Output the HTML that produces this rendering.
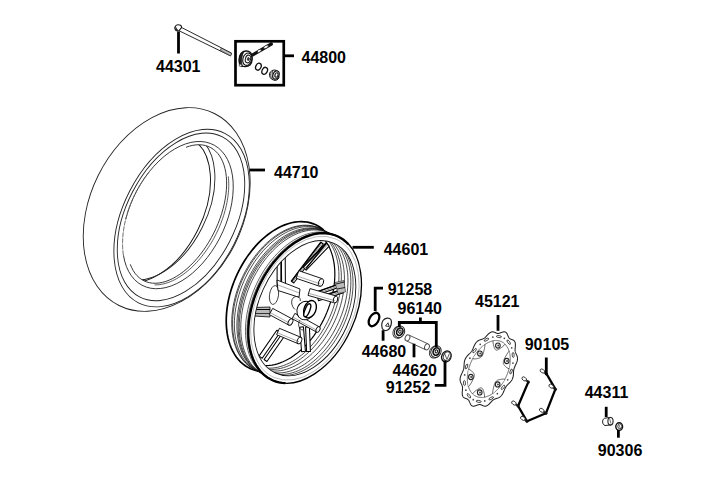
<!DOCTYPE html>
<html><head><meta charset="utf-8"><style>
html,body{margin:0;padding:0;background:#fff;width:720px;height:480px;overflow:hidden}
svg{display:block}
text{font-family:"Liberation Sans",sans-serif;font-weight:bold;font-size:16px;fill:#000}
</style></head><body>
<svg width="720" height="480" viewBox="0 0 720 480">
<rect width="720" height="480" fill="#fff"/>
<g id="tire">
<ellipse cx="166.70" cy="209.50" rx="76.50" ry="107.20" transform="rotate(26.40 166.70 209.50)" fill="none" stroke="#222" stroke-width="0.9" />
<ellipse cx="181.60" cy="218.10" rx="58.50" ry="95.10" transform="rotate(27.00 181.60 218.10)" fill="none" stroke="#222" stroke-width="0.9" />
<ellipse cx="181.00" cy="216.90" rx="54.50" ry="90.10" transform="rotate(27.40 181.00 216.90)" fill="none" stroke="#222" stroke-width="0.9" />
<path d="M125.75 219.13 L127.81 211.94 L130.35 204.79 L133.33 197.73 L136.75 190.84 L140.55 184.18 L144.71 177.82 L149.19 171.81 L153.93 166.21 L158.91 161.08 L164.07 156.46 L169.36 152.40 L174.73 148.94 L180.13 146.10 L185.51 143.93 L190.82 142.43 L196.00 141.62 L201.02 141.52 L205.81 142.11 L210.33 143.40 L214.55 145.37 L218.42 148.01 L221.90 151.28 L224.97 155.17 L227.58 159.62 L229.72 164.60 L231.37 170.06 L232.51 175.95 L233.13 182.22 L233.23 188.80 L232.79 195.62 L231.84 202.64 L230.37 209.77 L228.40 216.95 L225.95 224.11 L223.04 231.19 L219.70 238.12 L215.97 244.83 L211.87 251.25 L207.45 257.33 L202.75 263.01 L197.81 268.23 L192.68 272.94 L187.41 277.11 L182.05 280.68 L176.65 283.63 L171.26 285.93 L165.94 287.55 L160.73 288.48 L155.68 288.72 L150.84 288.25 L146.27 287.08 L141.99 285.24 L138.05 282.72 L134.50 279.56 L131.36 275.78 L128.66 271.43 L126.43 266.54 L124.69 261.16 L123.46 255.35" fill="none" stroke="#222" stroke-width="0.9" />
<path d="M123.46 255.35 L123.37 254.80 L123.29 254.25 L123.21 253.69 L123.14 253.13 L123.07 252.57 L123.00 252.01 L122.94 251.44 L122.88 250.87 L122.83 250.30 L122.78 249.72 L122.74 249.15 L122.70 248.57 L122.67 247.98 L122.64 247.40 L122.61 246.81 L122.59 246.22 L122.57 245.62 L122.56 245.03 L122.55 244.43 L122.55 243.83 L122.55 243.23 L122.55 242.62 L122.56 242.01 L122.57 241.40 L122.59 240.79 L122.61 240.18 L122.64 239.56 L122.67 238.95 L122.71 238.33 L122.74 237.71 L122.79 237.08 L122.84 236.46 L122.89 235.83 L122.95 235.21 L123.01 234.58 L123.07 233.95 L123.14 233.31 L123.22 232.68 L123.29 232.05 L123.38 231.41 L123.46 230.77 L123.56 230.13 L123.65 229.49 L123.75 228.85 L123.85 228.21 L123.96 227.56 L124.08 226.92 L124.19 226.27 L124.31 225.63 L124.44 224.98 L124.57 224.33 L124.70 223.68 L124.84 223.04 L124.98 222.39 L125.13 221.74 L125.28 221.08 L125.43 220.43 L125.59 219.78 L125.75 219.13" fill="none" stroke="#555" stroke-width="1.0" stroke-dasharray="5 1"/>
<path d="M125.75 219.13 L125.98 218.26 L126.21 217.39 L126.45 216.52 L126.69 215.65 L126.94 214.77 L127.20 213.90 L127.47 213.03 L127.74 212.16 L128.02 211.29 L128.31 210.42 L128.60 209.55 L128.91 208.68 L129.21 207.82 L129.53 206.95 L129.85 206.09 L130.18 205.22 L130.51 204.36 L130.86 203.50 L131.21 202.64 L131.56 201.78 L131.92 200.92 L132.29 200.07 L132.66 199.22 L133.04 198.37 L133.43 197.52 L133.82 196.68 L134.22 195.84 L134.63 195.00 L135.04 194.16 L135.46 193.33 L135.88 192.49 L136.31 191.67 L136.75 190.84 L137.19 190.02 L137.63 189.20 L138.09 188.39 L138.54 187.58 L139.01 186.78 L139.48 185.97 L139.95 185.17 L140.43 184.38 L140.91 183.59 L141.40 182.81 L141.90 182.03 L142.40 181.25 L142.90 180.48 L143.41 179.71 L143.93 178.95 L144.45 178.19 L144.97 177.44 L145.50 176.70 L146.03 175.96 L146.57 175.22 L147.11 174.49 L147.66 173.77 L148.21 173.05 L148.77 172.34 L149.33 171.63 L149.89 170.93" fill="none" stroke="#666" stroke-width="1.0" stroke-dasharray="4 1.5"/>
<path d="M186.03 147.28 L189.46 146.13 L192.83 145.32 L196.12 144.85 L199.31 144.73 L202.39 144.95 L205.35 145.52 L208.16 146.43 L210.81 147.68 L213.30 149.26 L215.60 151.17 L217.71 153.38 L219.62 155.90 L221.31 158.72 L222.78 161.80 L224.02 165.15 L225.03 168.74 L225.80 172.56 L226.32 176.58 L226.59 180.80 L226.62 185.17 L226.40 189.70 L225.93 194.34 L225.21 199.08 L224.26 203.90 L223.06 208.76 L221.64 213.66 L219.99 218.55 L218.13 223.42 L216.06 228.25 L213.80 233.00 L211.35 237.66 L208.73 242.20 L205.95 246.60 L203.03 250.83 L199.97 254.89 L196.80 258.73 L193.53 262.36 L190.18 265.74 L186.76 268.87 L183.29 271.72 L179.79 274.28 L176.28 276.54 L172.77 278.49 L169.28 280.11 L165.82 281.41 L162.43 282.37 L159.10 282.99 L155.86 283.26 L152.73 283.19 L149.72 282.77 L146.85 282.00 L144.12 280.90 L141.56 279.46 L139.18 277.70 L136.98 275.62 L134.99 273.23 L133.20 270.54 L131.63 267.57 L130.29 264.34" fill="none" stroke="#222" stroke-width="0.9" />
<path d="M228.32 176.41 L228.53 178.62 L228.68 180.88 L228.75 183.18 L228.76 185.52 L228.70 187.90 L228.57 190.32 L228.37 192.76 L228.10 195.24 L227.77 197.73 L227.37 200.25 L226.90 202.79 L226.36 205.34 L225.76 207.91 L225.10 210.48 L224.37 213.06 L223.58 215.64 L222.72 218.21 L221.81 220.78 L220.84 223.35 L219.80 225.89 L218.72 228.43 L217.57 230.94 L216.38 233.43 L215.13 235.90 L213.83 238.34 L212.48 240.74 L211.08 243.11 L209.64 245.44 L208.15 247.73 L206.63 249.98 L205.06 252.18 L203.46 254.32 L201.82 256.42 L200.15 258.45 L198.45 260.43 L196.72 262.35 L194.96 264.20 L193.18 265.99 L191.38 267.70 L189.56 269.35 L187.72 270.92 L185.87 272.42 L184.00 273.84 L182.13 275.18 L180.25 276.44 L178.36 277.62 L176.48 278.72 L174.59 279.72 L172.71 280.64 L170.83 281.48 L168.96 282.22 L167.10 282.87 L165.25 283.43 L163.42 283.90 L161.61 284.28 L159.82 284.57 L158.05 284.76 L156.30 284.85 L154.58 284.86" fill="none" stroke="#333" stroke-width="0.8" />
<clipPath id="tclip"><ellipse cx="176.9" cy="214.0" rx="41.5" ry="74.5" transform="rotate(26.3 176.9 214.0)"/></clipPath>
<g clip-path="url(#tclip)">
<ellipse cx="155.13" cy="208.71" rx="47.70" ry="78.80" transform="rotate(26.60 155.13 208.71)" fill="none" stroke="#111" stroke-width="0.95" />
<ellipse cx="159.55" cy="206.14" rx="47.70" ry="78.80" transform="rotate(26.60 159.55 206.14)" fill="none" stroke="#222" stroke-width="0.9" />
</g>
</g>
<g id="wheel">
<path d="M259.36 371.22 L256.33 370.65 L253.39 369.81 L250.56 368.72 L247.84 367.37 L245.24 365.76 L242.78 363.91 L240.47 361.82 L238.30 359.49 L236.30 356.94 L234.45 354.18 L232.79 351.21 L231.30 348.04 L229.99 344.69 L228.87 341.17 L227.95 337.49 L227.22 333.67 L226.69 329.71 L226.36 325.63 L226.23 321.45 L226.30 317.18 L226.58 312.84 L227.05 308.44 L227.73 304.00 L228.60 299.53 L229.66 295.05 L230.92 290.58 L232.36 286.13 L233.97 281.71 L235.77 277.35 L237.73 273.06 L239.85 268.85 L242.13 264.74 L244.55 260.74 L247.11 256.87 L249.79 253.15 L252.59 249.58 L255.51 246.17 L258.51 242.95 L261.61 239.92 L264.78 237.09 L268.01 234.47 L271.30 232.08 L274.63 229.91 L277.99 227.98 L281.36 226.30 L284.74 224.87 L288.11 223.70 L291.47 222.78 L294.79 222.13 L298.07 221.74 L301.30 221.63 L304.46 221.78 L307.54 222.19 L310.53 222.87 L313.43 223.82 L316.22 225.02 L318.88 226.49 L321.42 228.20 L323.82 230.15" fill="none" stroke="#000" stroke-width="1.7" />
<path d="M264.34 372.53 L261.36 371.97 L258.46 371.15 L255.67 370.07 L252.99 368.74 L250.44 367.16 L248.02 365.34 L245.73 363.28 L243.60 360.99 L241.62 358.47 L239.81 355.75 L238.17 352.82 L236.70 349.71 L235.41 346.41 L234.31 342.94 L233.40 339.32 L232.68 335.55 L232.16 331.65 L231.84 327.63 L231.71 323.52 L231.78 319.31 L232.05 315.03 L232.52 310.70 L233.18 306.32 L234.04 301.92 L235.09 297.51 L236.32 293.10 L237.74 288.72 L239.34 284.37 L241.10 280.07 L243.04 275.85 L245.13 271.70 L247.37 267.65 L249.75 263.71 L252.27 259.90 L254.92 256.23 L257.68 252.72 L260.55 249.36 L263.51 246.19 L266.56 243.20 L269.68 240.42 L272.87 237.84 L276.10 235.48 L279.38 233.35 L282.69 231.45 L286.01 229.79 L289.34 228.38 L292.67 227.23 L295.97 226.32 L299.24 225.68 L302.47 225.30 L305.65 225.19 L308.76 225.33 L311.80 225.74 L314.75 226.42 L317.60 227.35 L320.34 228.53 L322.97 229.97 L325.47 231.66 L327.83 233.58" fill="none" stroke="#111" stroke-width="0.75" />
<path d="M265.23 373.00 L262.24 372.44 L259.34 371.62 L256.55 370.54 L253.88 369.21 L251.32 367.62 L248.90 365.80 L246.62 363.74 L244.48 361.45 L242.51 358.94 L240.69 356.21 L239.05 353.29 L237.58 350.17 L236.30 346.87 L235.19 343.40 L234.28 339.78 L233.57 336.01 L233.04 332.11 L232.72 328.10 L232.59 323.98 L232.66 319.78 L232.93 315.50 L233.40 311.16 L234.07 306.79 L234.92 302.39 L235.97 297.97 L237.21 293.57 L238.62 289.18 L240.22 284.83 L241.99 280.54 L243.92 276.31 L246.01 272.16 L248.25 268.12 L250.64 264.18 L253.15 260.37 L255.80 256.70 L258.56 253.18 L261.43 249.83 L264.39 246.65 L267.44 243.67 L270.56 240.88 L273.75 238.30 L276.99 235.94 L280.26 233.81 L283.57 231.91 L286.90 230.26 L290.22 228.85 L293.55 227.69 L296.85 226.79 L300.12 226.15 L303.36 225.77 L306.53 225.65 L309.65 225.80 L312.68 226.21 L315.63 226.88 L318.48 227.81 L321.23 229.00 L323.85 230.44 L326.35 232.12 L328.72 234.05" fill="none" stroke="#111" stroke-width="0.75" />
<path d="M266.99 373.93 L264.00 373.37 L261.11 372.54 L258.32 371.47 L255.64 370.13 L253.08 368.55 L250.66 366.73 L248.38 364.67 L246.25 362.38 L244.27 359.87 L242.46 357.14 L240.81 354.22 L239.35 351.10 L238.06 347.80 L236.96 344.33 L236.05 340.71 L235.33 336.94 L234.81 333.04 L234.48 329.03 L234.35 324.91 L234.43 320.70 L234.70 316.43 L235.16 312.09 L235.83 307.72 L236.69 303.31 L237.74 298.90 L238.97 294.50 L240.39 290.11 L241.98 285.76 L243.75 281.47 L245.68 277.24 L247.77 273.09 L250.02 269.04 L252.40 265.11 L254.92 261.30 L257.56 257.63 L260.32 254.11 L263.19 250.76 L266.15 247.58 L269.20 244.60 L272.33 241.81 L275.51 239.23 L278.75 236.87 L282.03 234.74 L285.34 232.84 L288.66 231.18 L291.99 229.77 L295.31 228.62 L298.62 227.72 L301.89 227.07 L305.12 226.70 L308.30 226.58 L311.41 226.73 L314.45 227.14 L317.39 227.81 L320.25 228.74 L322.99 229.93 L325.62 231.37 L328.12 233.05 L330.48 234.98" fill="none" stroke="#111" stroke-width="0.75" />
<path d="M269.53 375.26 L266.54 374.70 L263.64 373.88 L260.85 372.80 L258.17 371.47 L255.62 369.89 L253.20 368.06 L250.92 366.00 L248.78 363.71 L246.81 361.20 L244.99 358.48 L243.35 355.55 L241.88 352.43 L240.59 349.13 L239.49 345.67 L238.58 342.04 L237.86 338.27 L237.34 334.37 L237.02 330.36 L236.89 326.24 L236.96 322.04 L237.23 317.76 L237.70 313.43 L238.36 309.05 L239.22 304.65 L240.27 300.24 L241.51 295.83 L242.92 291.44 L244.52 287.10 L246.29 282.80 L248.22 278.57 L250.31 274.43 L252.55 270.38 L254.94 266.44 L257.45 262.63 L260.10 258.96 L262.86 255.44 L265.73 252.09 L268.69 248.92 L271.74 245.93 L274.86 243.14 L278.05 240.56 L281.29 238.21 L284.56 236.07 L287.87 234.17 L291.20 232.52 L294.52 231.11 L297.85 229.95 L301.15 229.05 L304.42 228.41 L307.66 228.03 L310.83 227.91 L313.95 228.06 L316.98 228.47 L319.93 229.14 L322.78 230.07 L325.53 231.26 L328.15 232.70 L330.65 234.38 L333.02 236.31" fill="none" stroke="#111" stroke-width="0.75" />
<path d="M270.74 375.90 L267.75 375.34 L264.86 374.52 L262.07 373.44 L259.39 372.11 L256.83 370.52 L254.41 368.70 L252.13 366.64 L249.99 364.35 L248.02 361.84 L246.20 359.11 L244.56 356.19 L243.09 353.07 L241.81 349.77 L240.71 346.30 L239.80 342.68 L239.08 338.91 L238.55 335.01 L238.23 331.00 L238.10 326.88 L238.17 322.68 L238.45 318.40 L238.91 314.06 L239.58 309.69 L240.44 305.29 L241.48 300.87 L242.72 296.47 L244.14 292.08 L245.73 287.73 L247.50 283.44 L249.43 279.21 L251.52 275.06 L253.76 271.02 L256.15 267.08 L258.67 263.27 L261.31 259.60 L264.07 256.08 L266.94 252.73 L269.90 249.55 L272.95 246.57 L276.07 243.78 L279.26 241.20 L282.50 238.84 L285.78 236.71 L289.08 234.81 L292.41 233.16 L295.74 231.75 L299.06 230.59 L302.36 229.69 L305.64 229.05 L308.87 228.67 L312.05 228.55 L315.16 228.70 L318.19 229.11 L321.14 229.78 L324.00 230.71 L326.74 231.90 L329.37 233.34 L331.87 235.02 L334.23 236.95" fill="none" stroke="#111" stroke-width="0.75" />
<path d="M271.84 376.48 L268.85 375.92 L265.96 375.10 L263.17 374.02 L260.49 372.69 L257.94 371.10 L255.51 369.28 L253.23 367.22 L251.10 364.93 L249.12 362.42 L247.31 359.69 L245.66 356.77 L244.20 353.65 L242.91 350.35 L241.81 346.88 L240.90 343.26 L240.18 339.49 L239.66 335.59 L239.33 331.58 L239.21 327.46 L239.28 323.26 L239.55 318.98 L240.02 314.64 L240.68 310.27 L241.54 305.87 L242.59 301.45 L243.82 297.05 L245.24 292.66 L246.83 288.31 L248.60 284.02 L250.53 279.79 L252.62 275.64 L254.87 271.60 L257.25 267.66 L259.77 263.85 L262.41 260.18 L265.18 256.66 L268.04 253.31 L271.00 250.13 L274.05 247.15 L277.18 244.36 L280.36 241.78 L283.60 239.42 L286.88 237.29 L290.19 235.39 L293.51 233.74 L296.84 232.33 L300.16 231.17 L303.47 230.27 L306.74 229.63 L309.97 229.25 L313.15 229.13 L316.26 229.28 L319.30 229.69 L322.25 230.36 L325.10 231.29 L327.84 232.48 L330.47 233.92 L332.97 235.60 L335.33 237.53" fill="none" stroke="#111" stroke-width="0.75" />
<path d="M273.38 377.29 L270.40 376.73 L267.50 375.91 L264.71 374.83 L262.03 373.50 L259.48 371.92 L257.06 370.09 L254.77 368.03 L252.64 365.74 L250.66 363.23 L248.85 360.51 L247.21 357.58 L245.74 354.46 L244.45 351.16 L243.35 347.70 L242.44 344.07 L241.72 340.30 L241.20 336.40 L240.88 332.39 L240.75 328.27 L240.82 324.07 L241.09 319.79 L241.56 315.46 L242.22 311.08 L243.08 306.68 L244.13 302.27 L245.37 297.86 L246.78 293.47 L248.38 289.13 L250.15 284.83 L252.08 280.60 L254.17 276.46 L256.41 272.41 L258.79 268.47 L261.31 264.66 L263.96 260.99 L266.72 257.47 L269.59 254.12 L272.55 250.95 L275.60 247.96 L278.72 245.17 L281.91 242.59 L285.14 240.24 L288.42 238.10 L291.73 236.20 L295.05 234.55 L298.38 233.14 L301.71 231.98 L305.01 231.08 L308.28 230.44 L311.51 230.06 L314.69 229.94 L317.80 230.09 L320.84 230.50 L323.79 231.17 L326.64 232.10 L329.39 233.29 L332.01 234.73 L334.51 236.41 L336.88 238.34" fill="none" stroke="#111" stroke-width="0.75" />
<path d="M278.44 380.82 L275.42 380.25 L272.50 379.42 L269.68 378.34 L266.98 376.99 L264.40 375.39 L261.95 373.55 L259.64 371.47 L257.49 369.15 L255.49 366.62 L253.66 363.87 L252.00 360.91 L250.52 357.76 L249.22 354.43 L248.11 350.93 L247.19 347.26 L246.46 343.46 L245.93 339.52 L245.60 335.46 L245.47 331.30 L245.55 327.06 L245.82 322.74 L246.29 318.36 L246.96 313.94 L247.83 309.49 L248.89 305.04 L250.14 300.58 L251.57 296.15 L253.18 291.76 L254.97 287.42 L256.92 283.15 L259.03 278.96 L261.29 274.87 L263.70 270.90 L266.25 267.05 L268.92 263.34 L271.71 259.79 L274.60 256.40 L277.60 253.19 L280.68 250.18 L283.83 247.36 L287.05 244.76 L290.32 242.37 L293.63 240.22 L296.97 238.30 L300.33 236.63 L303.69 235.21 L307.05 234.04 L310.39 233.13 L313.69 232.48 L316.96 232.09 L320.17 231.98 L323.31 232.13 L326.38 232.54 L329.36 233.22 L332.24 234.16 L335.01 235.36 L337.66 236.81 L340.19 238.51 L342.58 240.46" fill="none" stroke="#222" stroke-width="0.7" />
<path d="M279.99 381.63 L276.97 381.07 L274.04 380.24 L271.22 379.15 L268.52 377.80 L265.94 376.20 L263.49 374.36 L261.19 372.28 L259.03 369.97 L257.03 367.43 L255.20 364.68 L253.54 361.72 L252.06 358.57 L250.76 355.24 L249.65 351.74 L248.73 348.08 L248.00 344.27 L247.48 340.33 L247.15 336.28 L247.02 332.12 L247.09 327.87 L247.36 323.55 L247.84 319.17 L248.51 314.75 L249.37 310.30 L250.43 305.85 L251.68 301.40 L253.11 296.97 L254.73 292.57 L256.51 288.23 L258.46 283.96 L260.57 279.77 L262.84 275.68 L265.25 271.71 L267.79 267.86 L270.46 264.15 L273.25 260.60 L276.15 257.21 L279.14 254.01 L282.22 250.99 L285.37 248.17 L288.59 245.57 L291.86 243.19 L295.18 241.03 L298.52 239.11 L301.88 237.44 L305.24 236.02 L308.59 234.85 L311.93 233.94 L315.24 233.29 L318.50 232.91 L321.71 232.79 L324.86 232.94 L327.92 233.35 L330.90 234.03 L333.78 234.97 L336.55 236.17 L339.21 237.62 L341.73 239.33 L344.12 241.27" fill="none" stroke="#222" stroke-width="0.7" />
<path d="M351.15 329.10 L349.38 332.84 L347.50 336.52 L345.49 340.11 L343.38 343.62 L341.16 347.03 L338.84 350.33 L336.42 353.52 L333.92 356.58 L331.34 359.51 L328.69 362.30 L325.97 364.95 L323.20 367.43 L320.37 369.76 L317.50 371.91 L314.60 373.89 L311.67 375.70 L308.72 377.31 L305.76 378.74 L302.80 379.97 L299.85 381.01 L296.90 381.84 L293.98 382.48 L291.09 382.91 L288.24 383.14 L285.43 383.16 L282.68 382.97 L279.98 382.58 L277.36 381.99 L274.81 381.20 L272.34 380.20 L269.96 379.01 L267.68 377.62 L265.50 376.04 L263.42 374.28 L261.46 372.34 L259.62 370.22 L257.91 367.93 L256.32 365.47 L254.86 362.86 L253.55 360.10 L252.37 357.20 L251.34 354.16 L250.45 351.00 L249.71 347.72 L249.12 344.33 L248.69 340.84 L248.41 337.27 L248.28 333.61 L248.31 329.88 L248.50 326.10 L248.84 322.26 L249.33 318.39 L249.98 314.49 L250.77 310.57 L251.71 306.64 L252.80 302.72 L254.04 298.82 L255.41 294.94 L256.91 291.09 L258.55 287.30 L260.32 283.56 L262.20 279.88 L264.21 276.29 L266.32 272.78 L268.54 269.37 L270.86 266.07 L273.28 262.88 L275.78 259.82 L278.36 256.89 L281.01 254.10 L283.73 251.45 L286.50 248.97 L289.33 246.64 L292.20 244.49 L295.10 242.51 L298.03 240.70 L300.98 239.09 L303.94 237.66 L306.90 236.43 L309.85 235.39 L312.80 234.56 L315.72 233.92 L318.61 233.49 L321.46 233.26 L324.27 233.24 L327.02 233.43 L329.72 233.82 L332.34 234.41 L334.89 235.20 L337.36 236.20 L339.74 237.39 L342.02 238.78 L344.20 240.36 L346.28 242.12 L348.24 244.06 L350.08 246.18 L351.79 248.47 L353.38 250.93 L354.84 253.54 L356.15 256.30 L357.33 259.20 L358.36 262.24 L359.25 265.40 L359.99 268.68 L360.58 272.07 L361.01 275.56 L361.29 279.13 L361.42 282.79 L361.39 286.52 L361.20 290.30 L360.86 294.14 L360.37 298.01 L359.72 301.91 L358.93 305.83 L357.99 309.76 L356.90 313.68 L355.66 317.58 L354.29 321.46 L352.79 325.31 L351.15 329.10Z" fill="#fff" stroke="none"/>
<clipPath id="wclip"><path d="M346.52 327.01 L344.93 330.38 L343.23 333.68 L341.43 336.92 L339.53 340.08 L337.53 343.15 L335.44 346.12 L333.27 348.99 L331.02 351.74 L328.69 354.38 L326.31 356.89 L323.86 359.27 L321.36 361.51 L318.82 363.60 L316.24 365.54 L313.63 367.32 L310.99 368.95 L308.34 370.40 L305.67 371.68 L303.01 372.79 L300.35 373.73 L297.70 374.48 L295.07 375.05 L292.47 375.44 L289.90 375.64 L287.37 375.66 L284.89 375.50 L282.47 375.15 L280.11 374.61 L277.81 373.90 L275.59 373.00 L273.45 371.93 L271.40 370.68 L269.43 369.26 L267.57 367.67 L265.80 365.92 L264.15 364.02 L262.60 361.95 L261.17 359.75 L259.86 357.40 L258.68 354.91 L257.62 352.30 L256.69 349.57 L255.89 346.72 L255.22 343.77 L254.70 340.72 L254.31 337.58 L254.05 334.36 L253.94 331.07 L253.97 327.71 L254.13 324.31 L254.44 320.86 L254.88 317.37 L255.46 313.86 L256.18 310.33 L257.03 306.80 L258.01 303.27 L259.12 299.75 L260.35 296.26 L261.71 292.80 L263.18 289.39 L264.77 286.02 L266.47 282.72 L268.27 279.48 L270.17 276.32 L272.17 273.25 L274.26 270.28 L276.43 267.41 L278.68 264.66 L281.01 262.02 L283.39 259.51 L285.84 257.13 L288.34 254.89 L290.88 252.80 L293.46 250.86 L296.07 249.08 L298.71 247.45 L301.36 246.00 L304.03 244.72 L306.69 243.61 L309.35 242.67 L312.00 241.92 L314.63 241.35 L317.23 240.96 L319.80 240.76 L322.33 240.74 L324.81 240.90 L327.23 241.25 L329.59 241.79 L331.89 242.50 L334.11 243.40 L336.25 244.47 L338.30 245.72 L340.27 247.14 L342.13 248.73 L343.90 250.48 L345.55 252.38 L347.10 254.45 L348.53 256.65 L349.84 259.00 L351.02 261.49 L352.08 264.10 L353.01 266.83 L353.81 269.68 L354.48 272.63 L355.00 275.68 L355.39 278.82 L355.65 282.04 L355.76 285.33 L355.73 288.69 L355.57 292.09 L355.26 295.54 L354.82 299.03 L354.24 302.54 L353.52 306.07 L352.67 309.60 L351.69 313.13 L350.58 316.65 L349.35 320.14 L347.99 323.60 L346.52 327.01Z"/></clipPath>
<g clip-path="url(#wclip)">
<path d="M313.74 230.85 L315.92 232.05 L318.01 233.44 L320.00 235.00 L321.89 236.74 L323.66 238.65 L325.32 240.72 L326.86 242.95 L328.27 245.34 L329.55 247.87 L330.70 250.53 L331.72 253.33 L332.60 256.25 L333.33 259.29 L333.92 262.43 L334.37 265.66 L334.67 268.99 L334.83 272.39 L334.83 275.86 L334.69 279.40 L334.40 282.97 L333.97 286.59 L333.39 290.24 L332.67 293.90 L331.80 297.58 L330.80 301.25 L329.66 304.90 L328.39 308.53 L326.99 312.13 L325.46 315.69 L323.81 319.19 L322.05 322.62 L320.18 325.99 L318.19 329.27 L316.11 332.45 L313.94 335.54 L311.67 338.51 L309.33 341.37 L306.91 344.10 L304.42 346.69 L301.87 349.15 L299.26 351.45 L296.61 353.60 L293.92 355.59 L291.20 357.40 L288.45 359.05 L285.69 360.52 L282.92 361.81 L280.15 362.91 L277.39 363.83 L274.64 364.56 L271.92 365.09 L269.22 365.43 L266.57 365.57 L263.96 365.52 L261.41 365.27 L258.91 364.83 L256.48 364.19 L254.13 363.37 L251.86 362.35" fill="none" stroke="#000" stroke-width="1.2" />
<path d="M313.80 230.41 L316.28 231.37 L318.66 232.54 L320.94 233.92 L323.11 235.51 L325.17 237.29 L327.10 239.27 L328.90 241.43 L330.57 243.78 L332.10 246.29 L333.49 248.97 L334.72 251.81 L335.81 254.80 L336.73 257.92 L337.50 261.17 L338.11 264.54 L338.55 268.02 L338.83 271.59 L338.94 275.25 L338.88 278.98 L338.66 282.77 L338.28 286.61 L337.73 290.49 L337.02 294.39 L336.14 298.31 L335.12 302.23 L333.93 306.13 L332.60 310.01 L331.12 313.86 L329.50 317.65 L327.74 321.39 L325.85 325.05 L323.84 328.63 L321.71 332.11 L319.46 335.49 L317.11 338.75 L314.67 341.88 L312.13 344.88 L309.52 347.73 L306.83 350.42 L304.07 352.95 L301.26 355.31 L298.41 357.49 L295.51 359.48 L292.58 361.28 L289.64 362.88 L286.69 364.27 L283.73 365.46 L280.78 366.44 L277.85 367.20 L274.95 367.75 L272.08 368.08 L269.26 368.18 L266.49 368.07 L263.78 367.74 L261.15 367.18 L258.59 366.41 L256.12 365.43 L253.75 364.24 L251.48 362.83" fill="none" stroke="#111" stroke-width="0.75" />
<path d="M316.22 231.68 L318.70 232.64 L321.08 233.82 L323.36 235.20 L325.54 236.78 L327.59 238.57 L329.52 240.54 L331.33 242.71 L333.00 245.05 L334.53 247.57 L335.91 250.25 L337.15 253.09 L338.23 256.07 L339.16 259.20 L339.93 262.45 L340.53 265.82 L340.97 269.29 L341.25 272.86 L341.36 276.52 L341.31 280.25 L341.09 284.04 L340.70 287.88 L340.15 291.76 L339.44 295.67 L338.57 299.58 L337.54 303.50 L336.36 307.41 L335.02 311.29 L333.54 315.13 L331.92 318.93 L330.16 322.66 L328.28 326.33 L326.26 329.90 L324.13 333.39 L321.89 336.77 L319.54 340.03 L317.09 343.16 L314.56 346.15 L311.94 349.00 L309.25 351.70 L306.50 354.23 L303.69 356.58 L300.83 358.76 L297.94 360.75 L295.01 362.55 L292.07 364.15 L289.11 365.55 L286.15 366.74 L283.21 367.72 L280.28 368.48 L277.37 369.02 L274.51 369.35 L271.68 369.46 L268.91 369.34 L266.21 369.01 L263.57 368.46 L261.02 367.69 L258.55 366.71 L256.18 365.51 L253.91 364.11" fill="none" stroke="#111" stroke-width="0.75" />
<path d="M319.31 233.31 L321.79 234.27 L324.17 235.44 L326.45 236.82 L328.62 238.41 L330.68 240.19 L332.61 242.17 L334.41 244.33 L336.08 246.68 L337.61 249.19 L339.00 251.87 L340.23 254.71 L341.32 257.70 L342.24 260.82 L343.01 264.07 L343.62 267.44 L344.06 270.92 L344.34 274.49 L344.45 278.15 L344.40 281.88 L344.18 285.67 L343.79 289.51 L343.24 293.39 L342.53 297.29 L341.66 301.21 L340.63 305.13 L339.44 309.03 L338.11 312.91 L336.63 316.76 L335.01 320.55 L333.25 324.29 L331.36 327.95 L329.35 331.53 L327.22 335.01 L324.97 338.39 L322.63 341.65 L320.18 344.78 L317.65 347.78 L315.03 350.63 L312.34 353.32 L309.59 355.85 L306.78 358.21 L303.92 360.39 L301.02 362.38 L298.10 364.18 L295.15 365.78 L292.20 367.17 L289.24 368.36 L286.29 369.34 L283.36 370.10 L280.46 370.65 L277.59 370.98 L274.77 371.08 L272.00 370.97 L269.30 370.64 L266.66 370.08 L264.10 369.31 L261.64 368.33 L259.26 367.14 L257.00 365.73" fill="none" stroke="#111" stroke-width="0.75" />
<path d="M322.84 235.16 L325.32 236.12 L327.70 237.30 L329.98 238.68 L332.15 240.26 L334.21 242.05 L336.14 244.02 L337.94 246.19 L339.61 248.53 L341.14 251.05 L342.53 253.73 L343.76 256.57 L344.85 259.55 L345.77 262.68 L346.54 265.93 L347.15 269.30 L347.59 272.77 L347.87 276.34 L347.98 280.00 L347.92 283.73 L347.70 287.52 L347.32 291.36 L346.77 295.24 L346.06 299.15 L345.19 303.06 L344.16 306.98 L342.97 310.89 L341.64 314.77 L340.16 318.61 L338.54 322.41 L336.78 326.14 L334.89 329.81 L332.88 333.38 L330.75 336.87 L328.50 340.25 L326.15 343.51 L323.71 346.64 L321.17 349.63 L318.56 352.48 L315.87 355.18 L313.11 357.71 L310.30 360.06 L307.45 362.24 L304.55 364.23 L301.63 366.03 L298.68 367.63 L295.73 369.03 L292.77 370.22 L289.82 371.20 L286.89 371.96 L283.99 372.50 L281.12 372.83 L278.30 372.94 L275.53 372.82 L272.82 372.49 L270.19 371.94 L267.63 371.17 L265.17 370.19 L262.79 368.99 L260.52 367.59" fill="none" stroke="#111" stroke-width="0.75" />
<path d="M325.71 236.67 L328.18 237.63 L330.57 238.80 L332.85 240.19 L335.02 241.77 L337.07 243.56 L339.01 245.53 L340.81 247.70 L342.48 250.04 L344.01 252.56 L345.39 255.24 L346.63 258.08 L347.71 261.06 L348.64 264.18 L349.41 267.44 L350.01 270.80 L350.46 274.28 L350.73 277.85 L350.85 281.51 L350.79 285.24 L350.57 289.03 L350.19 292.87 L349.64 296.75 L348.92 300.66 L348.05 304.57 L347.02 308.49 L345.84 312.39 L344.51 316.28 L343.03 320.12 L341.40 323.92 L339.65 327.65 L337.76 331.31 L335.74 334.89 L333.61 338.38 L331.37 341.75 L329.02 345.01 L326.58 348.15 L324.04 351.14 L321.42 353.99 L318.73 356.69 L315.98 359.22 L313.17 361.57 L310.31 363.75 L307.42 365.74 L304.49 367.54 L301.55 369.14 L298.59 370.54 L295.64 371.73 L292.69 372.70 L289.76 373.47 L286.85 374.01 L283.99 374.34 L281.16 374.45 L278.40 374.33 L275.69 374.00 L273.05 373.45 L270.50 372.68 L268.03 371.69 L265.66 370.50 L263.39 369.10" fill="none" stroke="#111" stroke-width="0.75" />
<path d="M327.91 237.83 L330.39 238.79 L332.77 239.96 L335.05 241.35 L337.22 242.93 L339.28 244.72 L341.21 246.69 L343.01 248.86 L344.68 251.20 L346.21 253.72 L347.60 256.40 L348.83 259.24 L349.92 262.22 L350.84 265.34 L351.61 268.60 L352.22 271.96 L352.66 275.44 L352.94 279.01 L353.05 282.67 L353.00 286.40 L352.78 290.19 L352.39 294.03 L351.84 297.91 L351.13 301.82 L350.26 305.73 L349.23 309.65 L348.04 313.55 L346.71 317.44 L345.23 321.28 L343.61 325.08 L341.85 328.81 L339.96 332.47 L337.95 336.05 L335.82 339.54 L333.57 342.91 L331.23 346.17 L328.78 349.31 L326.25 352.30 L323.63 355.15 L320.94 357.85 L318.19 360.38 L315.37 362.73 L312.52 364.91 L309.62 366.90 L306.70 368.70 L303.75 370.30 L300.80 371.70 L297.84 372.89 L294.89 373.86 L291.96 374.63 L289.06 375.17 L286.19 375.50 L283.37 375.61 L280.60 375.49 L277.89 375.16 L275.26 374.61 L272.70 373.84 L270.24 372.85 L267.86 371.66 L265.59 370.26" fill="none" stroke="#111" stroke-width="0.75" />
</g>
<g clip-path="url(#wclip)" stroke-linejoin="round">
<path d="M293.8 283.0 L323.3 244.0 L320.7 242.0 L291.2 281.0Z" fill="#fff" stroke="#000" stroke-width="1.05"/>
<path d="M292.6 282.1 L322.1 243.1" fill="none" stroke="#444" stroke-width="0.6"/>
<path d="M291.6 281.3 L321.1 242.3" fill="none" stroke="#000" stroke-width="1.1"/>
<path d="M306.2 270.1 L329.2 246.1 L325.8 242.9 L302.8 266.9Z" fill="#fff" stroke="#000" stroke-width="1.05"/>
<path d="M304.7 268.7 L327.7 244.7" fill="none" stroke="#444" stroke-width="0.6"/>
<path d="M303.3 267.4 L326.3 243.4" fill="none" stroke="#000" stroke-width="1.1"/>
<path d="M306.0 268.5 L325.8 244.0" fill="none" stroke="#000" stroke-width="1.3"/>
<path d="M280.9 288.0 L280.9 257.0 L277.1 257.0 L277.1 288.0Z" fill="#fff" stroke="#000" stroke-width="1.05"/>
<path d="M285.4 286.0 L285.2 256.0 L281.4 256.0 L281.6 286.0Z" fill="#fff" stroke="#000" stroke-width="1.05"/>
<path d="M254.0 307.5 L270.0 307.0 L270.0 317.0 L254.0 316.0Z" fill="#bbb" stroke="#000" stroke-width="0.8"/>
<path d="M254.0 309.5 L270.0 309.5" fill="none" stroke="#000" stroke-width="1.2"/>
<path d="M254.0 313.5 L270.0 313.5" fill="none" stroke="#333" stroke-width="1.2"/>
<path d="M276.8 330.3 L259.0 356.1 L262.2 358.3 L280.0 332.5Z" fill="#fff" stroke="#000" stroke-width="1.05"/>
<path d="M281.1 335.0 L264.1 359.5 L266.9 361.5 L283.9 337.0Z" fill="#fff" stroke="#000" stroke-width="1.05"/>
<path d="M299.6 327.2 L301.6 351.7 L305.4 351.3 L303.4 326.8Z" fill="#fff" stroke="#000" stroke-width="1.05"/>
<path d="M305.6 327.1 L306.6 351.6 L310.4 351.4 L309.4 326.9Z" fill="#fff" stroke="#000" stroke-width="1.05"/>
<path d="M318.6 294.6 L342.6 286.1 L341.4 282.9 L317.4 291.4Z" fill="#fff" stroke="#000" stroke-width="1.05"/>
<path d="M318.1 293.2 L342.1 284.7" fill="none" stroke="#444" stroke-width="0.6"/>
<path d="M317.6 291.8 L341.6 283.3" fill="none" stroke="#000" stroke-width="1.1"/>
<path d="M318.5 300.7 L343.5 292.7 L342.5 289.3 L317.5 297.3Z" fill="#fff" stroke="#000" stroke-width="1.05"/>
<path d="M318.1 299.2 L343.1 291.2" fill="none" stroke="#444" stroke-width="0.6"/>
<path d="M317.6 297.8 L342.6 289.8" fill="none" stroke="#000" stroke-width="1.1"/>
<path d="M335.0 282.5 L344.0 280.5 L345.5 292.0 L338.0 293.5Z" fill="#bbb" stroke="#222" stroke-width="0.6"/>
<path d="M336.0 284.0 L344.5 282.0" fill="none" stroke="#000" stroke-width="0.8"/>
<path d="M337.0 289.0 L345.0 287.5" fill="none" stroke="#000" stroke-width="0.8"/>
<ellipse cx="274" cy="295" rx="4.5" ry="9.5" transform="rotate(8 274 295)" fill="#fff" stroke="#000" stroke-width="0.7"/>
<path d="M296.2 278.3 L319.7 286.3 L322.3 278.7 L298.8 270.7Z" fill="#fff" stroke="#000" stroke-width="0.9"/>
<ellipse cx="321.0" cy="282.5" rx="2.4" ry="4.0" transform="rotate(18.8 321.0 282.5)" fill="#fff" stroke="#000" stroke-width="0.9"/>
<path d="M297.0 276.0 L320.5 284.0" fill="none" stroke="#555" stroke-width="0.5"/>
<path d="M277.0 280.0 L300.0 289.0 L299.0 297.3 L278.0 290.5Z" fill="#fff" stroke="#000" stroke-width="0.9"/>
<path d="M278.0 285.0 L299.5 293.0" fill="none" stroke="#555" stroke-width="0.5"/>
<path d="M308.0 295.4 L334.5 302.9 L336.5 296.1 L310.0 288.6Z" fill="#fff" stroke="#000" stroke-width="0.9"/>
<ellipse cx="335.5" cy="299.5" rx="2.1" ry="3.5" transform="rotate(15.8 335.5 299.5)" fill="#fff" stroke="#000" stroke-width="0.9"/>
<path d="M308.6 293.3 L335.1 300.8" fill="none" stroke="#555" stroke-width="0.5"/>
<path d="M269.3 314.6 L288.8 325.1 L292.2 318.9 L272.7 308.4Z" fill="#fff" stroke="#000" stroke-width="0.9"/>
<ellipse cx="290.5" cy="322.0" rx="2.1" ry="3.5" transform="rotate(28.3 290.5 322.0)" fill="#fff" stroke="#000" stroke-width="0.9"/>
<path d="M270.3 312.7 L289.8 323.2" fill="none" stroke="#555" stroke-width="0.5"/>
<path d="M276.6 334.7 L298.1 343.7 L300.9 337.3 L279.4 328.3Z" fill="#fff" stroke="#000" stroke-width="0.9"/>
<ellipse cx="299.5" cy="340.5" rx="2.1" ry="3.5" transform="rotate(22.7 299.5 340.5)" fill="#fff" stroke="#000" stroke-width="0.9"/>
<path d="M277.5 332.8 L299.0 341.8" fill="none" stroke="#555" stroke-width="0.5"/>
<path d="M292.1 318.6 L316.6 332.1 L319.4 326.9 L294.9 313.4Z" fill="#fff" stroke="#000" stroke-width="0.9"/>
<ellipse cx="318.0" cy="329.5" rx="1.8" ry="3.0" transform="rotate(28.9 318.0 329.5)" fill="#fff" stroke="#000" stroke-width="0.9"/>
<path d="M292.9 317.1 L317.4 330.6" fill="none" stroke="#555" stroke-width="0.5"/>
<path d="M295 309.5 C291 306 290.5 299.5 294 297.2 C297 295.5 301 297 300.2 301" fill="none" stroke="#222" stroke-width="0.9" />
<path d="M300 320 C297 324 299 330 303 330" fill="none" stroke="#222" stroke-width="0.8" />
<ellipse cx="305.5" cy="310.5" rx="8.5" ry="9.5" transform="rotate(25 305.5 310.5)" fill="#fff" stroke="#000" stroke-width="1"/>
<ellipse cx="310" cy="309.2" rx="5.9" ry="9.0" transform="rotate(22 310 309.2)" fill="#fff" stroke="#000" stroke-width="1.4"/>
<ellipse cx="307.3" cy="310.3" rx="2.4" ry="6.9" transform="rotate(22 307.3 310.3)" fill="#fff" stroke="#000" stroke-width="1.4"/>
</g>
<ellipse cx="304.85" cy="308.20" rx="50.80" ry="79.00" transform="rotate(24.30 304.85 308.20)" fill="none" stroke="#000" stroke-width="1.3" />
<path d="M285.43 383.16 L282.17 382.92 L279.00 382.39 L275.92 381.57 L272.96 380.47 L270.12 379.10 L267.41 377.44 L264.85 375.53 L262.45 373.35 L260.20 370.92 L258.13 368.25 L256.24 365.34 L254.54 362.22 L253.03 358.89 L251.72 355.36 L250.62 351.65 L249.72 347.78 L249.04 343.75 L248.57 339.58 L248.32 335.29 L248.29 330.90 L248.48 326.42 L248.88 321.87 L249.50 317.27 L250.33 312.63 L251.38 307.97 L252.63 303.32 L254.08 298.68 L255.73 294.09 L257.56 289.54 L259.58 285.07 L261.78 280.69 L264.14 276.41 L266.65 272.26 L269.32 268.24 L272.12 264.38 L275.05 260.69 L278.09 257.18 L281.24 253.87 L284.47 250.76 L287.79 247.88 L291.17 245.23 L294.61 242.83 L298.08 240.68 L301.58 238.78 L305.09 237.16 L308.60 235.81 L312.10 234.74 L315.57 233.95 L319.00 233.45 L322.37 233.23 L325.68 233.31 L328.90 233.67 L332.03 234.33 L335.06 235.26 L337.97 236.48 L340.76 237.98 L343.40 239.75 L345.90 241.78 L348.24 244.06" fill="none" stroke="#000" stroke-width="2.3" />
<ellipse cx="304.85" cy="308.20" rx="48.77" ry="75.84" transform="rotate(24.30 304.85 308.20)" fill="none" stroke="#888" stroke-width="0.5" />
<ellipse cx="304.85" cy="308.20" rx="45.72" ry="71.10" transform="rotate(24.30 304.85 308.20)" fill="none" stroke="#111" stroke-width="0.9" />
</g>
<g id="disc">
<path d="M511.94 379.79 L511.76 380.10 L511.57 380.39 L511.37 380.69 L511.17 380.98 L510.95 381.26 L510.73 381.53 L510.51 381.80 L510.28 382.07 L510.04 382.33 L509.80 382.58 L509.56 382.83 L509.32 383.08 L509.08 383.32 L508.84 383.56 L508.60 383.80 L508.36 384.03 L508.12 384.27 L507.89 384.51 L507.66 384.74 L507.44 384.98 L507.22 385.22 L507.01 385.46 L506.80 385.71 L506.60 385.96 L506.41 386.21 L506.22 386.47 L506.04 386.73 L505.86 387.01 L505.69 387.28 L505.52 387.57 L505.36 387.86 L505.20 388.15 L505.05 388.46 L504.90 388.77 L504.75 389.08 L504.61 389.40 L504.47 389.73 L504.33 390.06 L504.18 390.39 L504.04 390.73 L503.90 391.07 L503.75 391.41 L503.60 391.75 L503.45 392.10 L503.29 392.43 L503.13 392.77 L502.97 393.10 L502.80 393.43 L502.62 393.75 L502.44 394.07 L502.25 394.38 L502.06 394.67 L501.86 394.96 L501.66 395.24 L501.44 395.51 L501.22 395.77 L501.00 396.01 L500.77 396.24 L500.54 396.46 L500.30 396.67 L500.05 396.86 L499.80 397.04 L499.55 397.21 L499.29 397.37 L499.03 397.51 L498.77 397.64 L498.51 397.77 L498.25 397.88 L497.98 397.99 L497.72 398.09 L497.45 398.18 L497.19 398.26 L496.93 398.35 L496.66 398.43 L496.40 398.51 L496.15 398.59 L495.89 398.67 L495.64 398.75 L495.39 398.84 L495.14 398.93 L494.90 399.02 L494.65 399.13 L494.41 399.24 L494.18 399.36 L493.94 399.49 L493.71 399.63 L493.48 399.77 L493.25 399.93 L493.02 400.10 L492.79 400.28 L492.56 400.47 L492.34 400.67 L492.11 400.88 L491.89 401.10 L491.66 401.33 L491.43 401.57 L491.20 401.81 L490.97 402.05 L490.74 402.30 L490.51 402.56 L490.28 402.81 L490.04 403.06 L489.80 403.32 L489.56 403.57 L489.32 403.81 L489.07 404.05 L488.83 404.28 L488.58 404.51 L488.33 404.72 L488.08 404.92 L487.83 405.11 L487.58 405.29 L487.32 405.45 L487.07 405.60 L486.82 405.73 L486.57 405.84 L486.32 405.94 L486.07 406.02 L485.82 406.08 L485.57 406.13 L485.33 406.16 L485.08 406.17 L484.84 406.17 L484.61 406.15 L484.37 406.12 L484.14 406.08 L483.91 406.02 L483.68 405.96 L483.46 405.88 L483.24 405.80 L483.02 405.70 L482.81 405.61 L482.59 405.51 L482.38 405.41 L482.17 405.31 L481.97 405.21 L481.76 405.11 L481.55 405.02 L481.35 404.94 L481.14 404.86 L480.94 404.78 L480.73 404.72 L480.52 404.67 L480.31 404.63 L480.10 404.60 L479.88 404.58 L479.66 404.57 L479.44 404.57 L479.22 404.59 L478.99 404.62 L478.76 404.66 L478.53 404.71 L478.29 404.77 L478.04 404.84 L477.80 404.92 L477.55 405.00 L477.30 405.09 L477.04 405.19 L476.78 405.29 L476.52 405.39 L476.26 405.49 L476.00 405.59 L475.73 405.68 L475.47 405.78 L475.20 405.86 L474.94 405.94 L474.68 406.01 L474.42 406.07 L474.16 406.12 L473.91 406.15 L473.66 406.17 L473.42 406.18 L473.18 406.17 L472.95 406.15 L472.73 406.11 L472.51 406.05 L472.30 405.97 L472.09 405.88 L471.90 405.77 L471.71 405.64 L471.53 405.50 L471.36 405.35 L471.20 405.17 L471.04 404.99 L470.89 404.79 L470.75 404.58 L470.62 404.36 L470.49 404.13 L470.37 403.89 L470.25 403.65 L470.14 403.40 L470.03 403.14 L469.92 402.89 L469.82 402.64 L469.72 402.38 L469.62 402.13 L469.51 401.89 L469.41 401.64 L469.30 401.41 L469.19 401.18 L469.08 400.96 L468.97 400.74 L468.84 400.54 L468.72 400.35 L468.58 400.17 L468.45 399.99 L468.30 399.83 L468.15 399.68 L467.99 399.54 L467.82 399.41 L467.65 399.29 L467.47 399.17 L467.28 399.07 L467.08 398.97 L466.88 398.88 L466.68 398.79 L466.47 398.71 L466.26 398.63 L466.04 398.55 L465.82 398.47 L465.60 398.39 L465.38 398.31 L465.16 398.22 L464.95 398.13 L464.73 398.04 L464.52 397.93 L464.31 397.82 L464.11 397.70 L463.92 397.57 L463.73 397.43 L463.55 397.27 L463.38 397.11 L463.23 396.93 L463.08 396.74 L462.94 396.54 L462.81 396.33 L462.70 396.10 L462.60 395.86 L462.51 395.60 L462.43 395.34 L462.37 395.06 L462.31 394.78 L462.27 394.48 L462.24 394.18 L462.22 393.86 L462.20 393.54 L462.20 393.22 L462.21 392.89 L462.22 392.55 L462.24 392.21 L462.26 391.87 L462.28 391.53 L462.31 391.19 L462.34 390.85 L462.38 390.51 L462.41 390.18 L462.43 389.84 L462.46 389.52 L462.48 389.20 L462.50 388.88 L462.51 388.57 L462.52 388.26 L462.52 387.96 L462.51 387.67 L462.49 387.39 L462.46 387.11 L462.43 386.83 L462.38 386.57 L462.33 386.31 L462.27 386.05 L462.20 385.80 L462.12 385.55 L462.04 385.31 L461.94 385.07 L461.84 384.83 L461.74 384.60 L461.63 384.36 L461.52 384.13 L461.40 383.89 L461.28 383.66 L461.16 383.42 L461.05 383.17 L460.93 382.93 L460.82 382.68 L460.71 382.43 L460.61 382.17 L460.51 381.91 L460.42 381.64 L460.34 381.36 L460.27 381.08 L460.21 380.80 L460.16 380.51 L460.12 380.21 L460.10 379.91 L460.08 379.60 L460.08 379.28 L460.10 378.96 L460.12 378.64 L460.16 378.31 L460.22 377.98 L460.28 377.64 L460.36 377.30 L460.45 376.96 L460.55 376.62 L460.66 376.28 L460.78 375.93 L460.91 375.59 L461.05 375.25 L461.19 374.90 L461.34 374.56 L461.49 374.22 L461.64 373.88 L461.80 373.54 L461.96 373.21 L462.11 372.88 L462.27 372.55 L462.42 372.22 L462.57 371.89 L462.71 371.57 L462.85 371.25 L462.99 370.93 L463.11 370.62 L463.23 370.30 L463.34 369.99 L463.44 369.68 L463.54 369.37 L463.62 369.06 L463.70 368.75 L463.77 368.44 L463.83 368.13 L463.88 367.81 L463.93 367.50 L463.97 367.18 L464.00 366.87 L464.03 366.55 L464.05 366.23 L464.07 365.90 L464.08 365.57 L464.10 365.25 L464.11 364.91 L464.13 364.58 L464.14 364.24 L464.16 363.91 L464.19 363.56 L464.21 363.22 L464.25 362.88 L464.29 362.54 L464.33 362.19 L464.39 361.85 L464.45 361.50 L464.52 361.16 L464.61 360.82 L464.70 360.48 L464.81 360.15 L464.92 359.81 L465.05 359.48 L465.18 359.16 L465.33 358.84 L465.49 358.52 L465.66 358.21 L465.84 357.90 L466.03 357.61 L466.23 357.31 L466.43 357.02 L466.65 356.74 L466.87 356.47 L467.09 356.20 L467.32 355.93 L467.56 355.67 L467.80 355.42 L468.04 355.17 L468.28 354.92 L468.52 354.68 L468.76 354.44 L469.00 354.20 L469.24 353.97 L469.48 353.73 L469.71 353.49 L469.94 353.26 L470.16 353.02 L470.38 352.78 L470.59 352.54 L470.80 352.29 L471.00 352.04 L471.19 351.79 L471.38 351.53 L471.56 351.27 L471.74 350.99 L471.91 350.72 L472.08 350.43 L472.24 350.14 L472.40 349.85 L472.55 349.54 L472.70 349.23 L472.85 348.92 L472.99 348.60 L473.13 348.27 L473.27 347.94 L473.42 347.61 L473.56 347.27 L473.70 346.93 L473.85 346.59 L474.00 346.25 L474.15 345.90 L474.31 345.57 L474.47 345.23 L474.63 344.90 L474.80 344.57 L474.98 344.25 L475.16 343.93 L475.35 343.62 L475.54 343.33 L475.74 343.04 L475.94 342.76 L476.16 342.49 L476.38 342.23 L476.60 341.99 L476.83 341.76 L477.06 341.54 L477.30 341.33 L477.55 341.14 L477.80 340.96 L478.05 340.79 L478.31 340.63 L478.57 340.49 L478.83 340.36 L479.09 340.23 L479.35 340.12 L479.62 340.01 L479.88 339.91 L480.15 339.82 L480.41 339.74 L480.67 339.65 L480.94 339.57 L481.20 339.49 L481.45 339.41 L481.71 339.33 L481.96 339.25 L482.21 339.16 L482.46 339.07 L482.70 338.98 L482.95 338.87 L483.19 338.76 L483.42 338.64 L483.66 338.51 L483.89 338.37 L484.12 338.23 L484.35 338.07 L484.58 337.90 L484.81 337.72 L485.04 337.53 L485.26 337.33 L485.49 337.12 L485.71 336.90 L485.94 336.67 L486.17 336.43 L486.40 336.19 L486.63 335.95 L486.86 335.70 L487.09 335.44 L487.32 335.19 L487.56 334.94 L487.80 334.68 L488.04 334.43 L488.28 334.19 L488.53 333.95 L488.77 333.72 L489.02 333.49 L489.27 333.28 L489.52 333.08 L489.77 332.89 L490.02 332.71 L490.28 332.55 L490.53 332.40 L490.78 332.27 L491.03 332.16 L491.28 332.06 L491.53 331.98 L491.78 331.92 L492.03 331.87 L492.27 331.84 L492.52 331.83 L492.76 331.83 L492.99 331.85 L493.23 331.88 L493.46 331.92 L493.69 331.98 L493.92 332.04 L494.14 332.12 L494.36 332.20 L494.58 332.30 L494.79 332.39 L495.01 332.49 L495.22 332.59 L495.43 332.69 L495.63 332.79 L495.84 332.89 L496.05 332.98 L496.25 333.06 L496.46 333.14 L496.66 333.22 L496.87 333.28 L497.08 333.33 L497.29 333.37 L497.50 333.40 L497.72 333.42 L497.94 333.43 L498.16 333.43 L498.38 333.41 L498.61 333.38 L498.84 333.34 L499.07 333.29 L499.31 333.23 L499.56 333.16 L499.80 333.08 L500.05 333.00 L500.30 332.91 L500.56 332.81 L500.82 332.71 L501.08 332.61 L501.34 332.51 L501.60 332.41 L501.87 332.32 L502.13 332.22 L502.40 332.14 L502.66 332.06 L502.92 331.99 L503.18 331.93 L503.44 331.88 L503.69 331.85 L503.94 331.83 L504.18 331.82 L504.42 331.83 L504.65 331.85 L504.87 331.89 L505.09 331.95 L505.30 332.03 L505.51 332.12 L505.70 332.23 L505.89 332.36 L506.07 332.50 L506.24 332.65 L506.40 332.83 L506.56 333.01 L506.71 333.21 L506.85 333.42 L506.98 333.64 L507.11 333.87 L507.23 334.11 L507.35 334.35 L507.46 334.60 L507.57 334.86 L507.68 335.11 L507.78 335.36 L507.88 335.62 L507.98 335.87 L508.09 336.11 L508.19 336.36 L508.30 336.59 L508.41 336.82 L508.52 337.04 L508.63 337.26 L508.76 337.46 L508.88 337.65 L509.02 337.83 L509.15 338.01 L509.30 338.17 L509.45 338.32 L509.61 338.46 L509.78 338.59 L509.95 338.71 L510.13 338.83 L510.32 338.93 L510.52 339.03 L510.72 339.12 L510.92 339.21 L511.13 339.29 L511.34 339.37 L511.56 339.45 L511.78 339.53 L512.00 339.61 L512.22 339.69 L512.44 339.78 L512.65 339.87 L512.87 339.96 L513.08 340.07 L513.29 340.18 L513.49 340.30 L513.68 340.43 L513.87 340.57 L514.05 340.73 L514.22 340.89 L514.37 341.07 L514.52 341.26 L514.66 341.46 L514.79 341.67 L514.90 341.90 L515.00 342.14 L515.09 342.40 L515.17 342.66 L515.23 342.94 L515.29 343.22 L515.33 343.52 L515.36 343.82 L515.38 344.14 L515.40 344.46 L515.40 344.78 L515.39 345.11 L515.38 345.45 L515.36 345.79 L515.34 346.13 L515.32 346.47 L515.29 346.81 L515.26 347.15 L515.22 347.49 L515.19 347.82 L515.17 348.16 L515.14 348.48 L515.12 348.80 L515.10 349.12 L515.09 349.43 L515.08 349.74 L515.08 350.04 L515.09 350.33 L515.11 350.61 L515.14 350.89 L515.17 351.17 L515.22 351.43 L515.27 351.69 L515.33 351.95 L515.40 352.20 L515.48 352.45 L515.56 352.69 L515.66 352.93 L515.76 353.17 L515.86 353.40 L515.97 353.64 L516.08 353.87 L516.20 354.11 L516.32 354.34 L516.44 354.58 L516.55 354.83 L516.67 355.07 L516.78 355.32 L516.89 355.57 L516.99 355.83 L517.09 356.09 L517.18 356.36 L517.26 356.64 L517.33 356.92 L517.39 357.20 L517.44 357.49 L517.48 357.79 L517.50 358.09 L517.52 358.40 L517.52 358.72 L517.50 359.04 L517.48 359.36 L517.44 359.69 L517.38 360.02 L517.32 360.36 L517.24 360.70 L517.15 361.04 L517.05 361.38 L516.94 361.72 L516.82 362.07 L516.69 362.41 L516.55 362.75 L516.41 363.10 L516.26 363.44 L516.11 363.78 L515.96 364.12 L515.80 364.46 L515.64 364.79 L515.49 365.12 L515.33 365.45 L515.18 365.78 L515.03 366.11 L514.89 366.43 L514.75 366.75 L514.61 367.07 L514.49 367.38 L514.37 367.70 L514.26 368.01 L514.16 368.32 L514.06 368.63 L513.98 368.94 L513.90 369.25 L513.83 369.56 L513.77 369.87 L513.72 370.19 L513.67 370.50 L513.63 370.82 L513.60 371.13 L513.57 371.45 L513.55 371.77 L513.53 372.10 L513.52 372.43 L513.50 372.75 L513.49 373.09 L513.47 373.42 L513.46 373.76 L513.44 374.09 L513.41 374.44 L513.39 374.78 L513.35 375.12 L513.31 375.46 L513.27 375.81 L513.21 376.15 L513.15 376.50 L513.08 376.84 L512.99 377.18 L512.90 377.52 L512.79 377.85 L512.68 378.19 L512.55 378.52 L512.42 378.84 L512.27 379.16 L512.11 379.48 L511.94 379.79Z" fill="#fff" stroke="#222" stroke-width="1.05"/>
<path d="M506.04 377.04 L505.92 377.28 L505.81 377.51 L505.70 377.75 L505.58 377.99 L505.46 378.22 L505.35 378.45 L505.23 378.69 L505.11 378.92 L504.98 379.15 L504.86 379.39 L504.74 379.62 L504.61 379.85 L504.48 380.08 L504.36 380.30 L504.23 380.53 L504.10 380.76 L503.97 380.98 L503.83 381.21 L503.70 381.43 L503.56 381.66 L503.43 381.88 L503.29 382.10 L503.15 382.32 L503.01 382.54 L502.87 382.75 L502.73 382.97 L502.59 383.19 L502.44 383.40 L502.30 383.62 L502.15 383.83 L502.01 384.04 L501.86 384.25 L501.71 384.46 L501.56 384.67 L501.41 384.87 L501.26 385.08 L501.11 385.28 L500.95 385.49 L500.80 385.69 L500.64 385.89 L500.49 386.09 L500.33 386.29 L500.17 386.48 L500.01 386.68 L499.85 386.87 L499.69 387.06 L499.53 387.26 L499.37 387.44 L499.21 387.63 L499.04 387.82 L498.88 388.01 L498.71 388.19 L498.55 388.37 L498.38 388.55 L498.21 388.73 L498.04 388.91 L497.87 389.09 L497.70 389.26 L497.53 389.44 L497.36 389.61 L497.19 389.78 L497.02 389.95 L496.85 390.12 L496.67 390.28 L496.50 390.44 L496.32 390.61 L496.15 390.77 L495.97 390.93 L495.80 391.08 L495.62 391.24 L495.44 391.39 L495.26 391.55 L495.08 391.70 L494.91 391.85 L494.73 391.99 L494.55 392.14 L494.37 392.28 L494.18 392.42 L494.00 392.56 L493.82 392.70 L493.64 392.84 L493.46 392.97 L493.28 393.11 L493.09 393.24 L492.91 393.37 L492.72 393.49 L492.54 393.62 L492.36 393.74 L492.17 393.86 L491.99 393.98 L491.80 394.10 L491.62 394.22 L491.43 394.33 L491.25 394.44 L491.06 394.55 L490.87 394.66 L490.69 394.77 L490.50 394.87 L490.32 394.98 L490.13 395.08 L489.94 395.17 L489.76 395.27 L489.57 395.37 L489.38 395.46 L489.19 395.55 L489.01 395.64 L488.82 395.72 L488.63 395.81 L488.45 395.89 L488.26 395.97 L488.07 396.05 L487.89 396.12 L487.70 396.20 L487.51 396.27 L487.33 396.34 L487.14 396.41 L486.95 396.47 L486.77 396.54 L486.58 396.60 L486.39 396.66 L486.21 396.72 L486.02 396.77 L485.84 396.82 L485.65 396.87 L485.47 396.92 L485.28 396.97 L485.10 397.01 L484.92 397.06 L484.73 397.10 L484.55 397.14 L484.37 397.17 L484.18 397.21 L484.00 397.24 L483.82 397.27 L483.64 397.29 L483.46 397.32 L483.27 397.34 L483.09 397.36 L482.91 397.38 L482.73 397.40 L482.56 397.41 L482.38 397.43 L482.20 397.44 L482.02 397.44 L481.84 397.45 L481.67 397.45 L481.49 397.45 L481.32 397.45 L481.14 397.45 L480.97 397.45 L480.79 397.44 L480.62 397.43 L480.45 397.42 L480.28 397.40 L480.10 397.39 L479.93 397.37 L479.76 397.35 L479.59 397.33 L479.43 397.30 L479.26 397.28 L479.09 397.25 L478.92 397.22 L478.76 397.18 L478.59 397.15 L478.43 397.11 L478.27 397.07 L478.10 397.03 L477.94 396.99 L477.78 396.94 L477.62 396.89 L477.46 396.84 L477.30 396.79 L477.15 396.74 L476.99 396.68 L476.84 396.62 L476.68 396.56 L476.53 396.50 L476.37 396.43 L476.22 396.37 L476.07 396.30 L475.92 396.23 L475.77 396.15 L475.62 396.08 L475.48 396.00 L475.33 395.92 L475.19 395.84 L475.04 395.75 L474.90 395.67 L474.76 395.58 L474.62 395.49 L474.48 395.40 L474.34 395.31 L474.20 395.21 L474.07 395.11 L473.93 395.01 L473.80 394.91 L473.66 394.81 L473.53 394.70 L473.40 394.60 L473.27 394.49 L473.14 394.37 L473.02 394.26 L472.89 394.15 L472.77 394.03 L472.64 393.91 L472.52 393.79 L472.40 393.67 L472.28 393.54 L472.16 393.41 L472.04 393.29 L471.93 393.16 L471.81 393.02 L471.70 392.89 L471.59 392.75 L471.48 392.62 L471.37 392.48 L471.26 392.34 L471.15 392.19 L471.05 392.05 L470.94 391.90 L470.84 391.75 L470.74 391.60 L470.64 391.45 L470.54 391.30 L470.44 391.14 L470.35 390.99 L470.25 390.83 L470.16 390.67 L470.07 390.51 L469.98 390.34 L469.89 390.18 L469.80 390.01 L469.72 389.84 L469.63 389.67 L469.55 389.50 L469.47 389.33 L469.39 389.15 L469.31 388.98 L469.23 388.80 L469.16 388.62 L469.08 388.44 L469.01 388.26 L468.94 388.07 L468.87 387.89 L468.80 387.70 L468.74 387.52 L468.67 387.33 L468.61 387.14 L468.55 386.94 L468.49 386.75 L468.43 386.55 L468.37 386.36 L468.32 386.16 L468.26 385.96 L468.21 385.76 L468.16 385.56 L468.11 385.36 L468.06 385.16 L468.01 384.95 L467.97 384.74 L467.93 384.54 L467.89 384.33 L467.85 384.12 L467.81 383.91 L467.77 383.69 L467.74 383.48 L467.70 383.27 L467.67 383.05 L467.64 382.84 L467.61 382.62 L467.58 382.40 L467.56 382.18 L467.54 381.96 L467.51 381.74 L467.49 381.52 L467.47 381.29 L467.46 381.07 L467.44 380.84 L467.43 380.62 L467.41 380.39 L467.40 380.16 L467.39 379.93 L467.39 379.70 L467.38 379.47 L467.38 379.24 L467.37 379.01 L467.37 378.78 L467.37 378.54 L467.38 378.31 L467.38 378.07 L467.39 377.84 L467.39 377.60 L467.40 377.36 L467.41 377.13 L467.42 376.89 L467.44 376.65 L467.45 376.41 L467.47 376.17 L467.49 375.93 L467.51 375.69 L467.53 375.45 L467.55 375.20 L467.58 374.96 L467.61 374.72 L467.63 374.47 L467.66 374.23 L467.70 373.99 L467.73 373.74 L467.76 373.50 L467.80 373.25 L467.84 373.01 L467.88 372.76 L467.92 372.51 L467.96 372.27 L468.00 372.02 L468.05 371.77 L468.10 371.53 L468.15 371.28 L468.20 371.03 L468.25 370.78 L468.30 370.54 L468.36 370.29 L468.42 370.04 L468.47 369.79 L468.53 369.54 L468.60 369.29 L468.66 369.05 L468.72 368.80 L468.79 368.55 L468.86 368.30 L468.93 368.05 L469.00 367.80 L469.07 367.56 L469.14 367.31 L469.22 367.06 L469.29 366.81 L469.37 366.57 L469.45 366.32 L469.53 366.07 L469.62 365.82 L469.70 365.58 L469.78 365.33 L469.87 365.09 L469.96 364.84 L470.05 364.59 L470.14 364.35 L470.23 364.10 L470.33 363.86 L470.42 363.62 L470.52 363.37 L470.62 363.13 L470.72 362.89 L470.82 362.64 L470.92 362.40 L471.03 362.16 L471.13 361.92 L471.24 361.68 L471.34 361.44 L471.45 361.20 L471.56 360.96 L471.68 360.72 L471.79 360.49 L471.90 360.25 L472.02 360.01 L472.14 359.78 L472.25 359.55 L472.37 359.31 L472.49 359.08 L472.62 358.85 L472.74 358.61 L472.86 358.38 L472.99 358.15 L473.12 357.92 L473.24 357.70 L473.37 357.47 L473.50 357.24 L473.63 357.02 L473.77 356.79 L473.90 356.57 L474.04 356.34 L474.17 356.12 L474.31 355.90 L474.45 355.68 L474.59 355.46 L474.73 355.25 L474.87 355.03 L475.01 354.81 L475.16 354.60 L475.30 354.38 L475.45 354.17 L475.59 353.96 L475.74 353.75 L475.89 353.54 L476.04 353.33 L476.19 353.13 L476.34 352.92 L476.49 352.72 L476.65 352.51 L476.80 352.31 L476.96 352.11 L477.11 351.91 L477.27 351.71 L477.43 351.52 L477.59 351.32 L477.75 351.13 L477.91 350.94 L478.07 350.74 L478.23 350.56 L478.39 350.37 L478.56 350.18 L478.72 349.99 L478.89 349.81 L479.05 349.63 L479.22 349.45 L479.39 349.27 L479.56 349.09 L479.73 348.91 L479.90 348.74 L480.07 348.56 L480.24 348.39 L480.41 348.22 L480.58 348.05 L480.75 347.88 L480.93 347.72 L481.10 347.56 L481.28 347.39 L481.45 347.23 L481.63 347.07 L481.80 346.92 L481.98 346.76 L482.16 346.61 L482.34 346.45 L482.52 346.30 L482.69 346.15 L482.87 346.01 L483.05 345.86 L483.23 345.72 L483.42 345.58 L483.60 345.44 L483.78 345.30 L483.96 345.16 L484.14 345.03 L484.32 344.89 L484.51 344.76 L484.69 344.63 L484.88 344.51 L485.06 344.38 L485.24 344.26 L485.43 344.14 L485.61 344.02 L485.80 343.90 L485.98 343.78 L486.17 343.67 L486.35 343.56 L486.54 343.45 L486.73 343.34 L486.91 343.23 L487.10 343.13 L487.28 343.02 L487.47 342.92 L487.66 342.83 L487.84 342.73 L488.03 342.63 L488.22 342.54 L488.41 342.45 L488.59 342.36 L488.78 342.28 L488.97 342.19 L489.15 342.11 L489.34 342.03 L489.53 341.95 L489.71 341.88 L489.90 341.80 L490.09 341.73 L490.27 341.66 L490.46 341.59 L490.65 341.53 L490.83 341.46 L491.02 341.40 L491.21 341.34 L491.39 341.28 L491.58 341.23 L491.76 341.18 L491.95 341.13 L492.13 341.08 L492.32 341.03 L492.50 340.99 L492.68 340.94 L492.87 340.90 L493.05 340.86 L493.23 340.83 L493.42 340.79 L493.60 340.76 L493.78 340.73 L493.96 340.71 L494.14 340.68 L494.33 340.66 L494.51 340.64 L494.69 340.62 L494.87 340.60 L495.04 340.59 L495.22 340.57 L495.40 340.56 L495.58 340.56 L495.76 340.55 L495.93 340.55 L496.11 340.55 L496.28 340.55 L496.46 340.55 L496.63 340.55 L496.81 340.56 L496.98 340.57 L497.15 340.58 L497.32 340.60 L497.50 340.61 L497.67 340.63 L497.84 340.65 L498.01 340.67 L498.17 340.70 L498.34 340.72 L498.51 340.75 L498.68 340.78 L498.84 340.82 L499.01 340.85 L499.17 340.89 L499.33 340.93 L499.50 340.97 L499.66 341.01 L499.82 341.06 L499.98 341.11 L500.14 341.16 L500.30 341.21 L500.45 341.26 L500.61 341.32 L500.76 341.38 L500.92 341.44 L501.07 341.50 L501.23 341.57 L501.38 341.63 L501.53 341.70 L501.68 341.77 L501.83 341.85 L501.98 341.92 L502.12 342.00 L502.27 342.08 L502.41 342.16 L502.56 342.25 L502.70 342.33 L502.84 342.42 L502.98 342.51 L503.12 342.60 L503.26 342.69 L503.40 342.79 L503.53 342.89 L503.67 342.99 L503.80 343.09 L503.94 343.19 L504.07 343.30 L504.20 343.40 L504.33 343.51 L504.46 343.63 L504.58 343.74 L504.71 343.85 L504.83 343.97 L504.96 344.09 L505.08 344.21 L505.20 344.33 L505.32 344.46 L505.44 344.59 L505.56 344.71 L505.67 344.84 L505.79 344.98 L505.90 345.11 L506.01 345.25 L506.12 345.38 L506.23 345.52 L506.34 345.66 L506.45 345.81 L506.55 345.95 L506.66 346.10 L506.76 346.25 L506.86 346.40 L506.96 346.55 L507.06 346.70 L507.16 346.86 L507.25 347.01 L507.35 347.17 L507.44 347.33 L507.53 347.49 L507.62 347.66 L507.71 347.82 L507.80 347.99 L507.88 348.16 L507.97 348.33 L508.05 348.50 L508.13 348.67 L508.21 348.85 L508.29 349.02 L508.37 349.20 L508.44 349.38 L508.52 349.56 L508.59 349.74 L508.66 349.93 L508.73 350.11 L508.80 350.30 L508.86 350.48 L508.93 350.67 L508.99 350.86 L509.05 351.06 L509.11 351.25 L509.17 351.45 L509.23 351.64 L509.28 351.84 L509.34 352.04 L509.39 352.24 L509.44 352.44 L509.49 352.64 L509.54 352.84 L509.59 353.05 L509.63 353.26 L509.67 353.46 L509.71 353.67 L509.75 353.88 L509.79 354.09 L509.83 354.31 L509.86 354.52 L509.90 354.73 L509.93 354.95 L509.96 355.16 L509.99 355.38 L510.02 355.60 L510.04 355.82 L510.06 356.04 L510.09 356.26 L510.11 356.48 L510.13 356.71 L510.14 356.93 L510.16 357.16 L510.17 357.38 L510.19 357.61 L510.20 357.84 L510.21 358.07 L510.21 358.30 L510.22 358.53 L510.22 358.76 L510.23 358.99 L510.23 359.22 L510.23 359.46 L510.22 359.69 L510.22 359.93 L510.21 360.16 L510.21 360.40 L510.20 360.64 L510.19 360.87 L510.18 361.11 L510.16 361.35 L510.15 361.59 L510.13 361.83 L510.11 362.07 L510.09 362.31 L510.07 362.55 L510.05 362.80 L510.02 363.04 L509.99 363.28 L509.97 363.53 L509.94 363.77 L509.90 364.01 L509.87 364.26 L509.84 364.50 L509.80 364.75 L509.76 364.99 L509.72 365.24 L509.68 365.49 L509.64 365.73 L509.60 365.98 L509.55 366.23 L509.50 366.47 L509.45 366.72 L509.40 366.97 L509.35 367.22 L509.30 367.46 L509.24 367.71 L509.18 367.96 L509.13 368.21 L509.07 368.46 L509.00 368.71 L508.94 368.95 L508.88 369.20 L508.81 369.45 L508.74 369.70 L508.67 369.95 L508.60 370.20 L508.53 370.44 L508.46 370.69 L508.38 370.94 L508.31 371.19 L508.23 371.43 L508.15 371.68 L508.07 371.93 L507.98 372.18 L507.90 372.42 L507.82 372.67 L507.73 372.91 L507.64 373.16 L507.55 373.41 L507.46 373.65 L507.37 373.90 L507.27 374.14 L507.18 374.38 L507.08 374.63 L506.98 374.87 L506.88 375.11 L506.78 375.36 L506.68 375.60 L506.57 375.84 L506.47 376.08 L506.36 376.32 L506.26 376.56 L506.15 376.80 L506.04 377.04Z" fill="none" stroke="#333" stroke-width="0.8"/>
<path d="M472.63 358.54 L474.01 358.88 L474.81 358.89 L475.48 358.85 L476.08 358.78 L476.63 358.71 L477.13 358.62 L477.60 358.53 L478.04 358.43 L478.45 358.33 L478.84 358.22 L479.20 358.10 L479.54 357.97 L479.87 357.84 L480.17 357.69 L480.46 357.54 L480.72 357.37 L480.98 357.18 L481.22 356.99 L481.44 356.77 L481.66 356.54 L481.86 356.28 L482.06 356.01 L482.24 355.72 L482.42 355.40 L482.59 355.06 L482.75 354.69 L482.91 354.30 L483.07 353.87 L483.23 353.42 L483.38 352.94 L483.53 352.42 L483.69 351.87 L483.84 351.28 L484.00 350.64 L484.16 349.95 L484.32 349.20 L484.49 348.38 L484.65 347.45 L484.80 346.33 L484.85 344.34" fill="#fff" stroke="#333" stroke-width="0.8"/>
<ellipse cx="479.94" cy="353.55" rx="2.3" ry="2.6" fill="#fff" stroke="#222" stroke-width="1.1"/>
<circle cx="480.24" cy="353.55" r="1.0" fill="#444"/>
<path d="M493.08 340.67 L493.10 342.64 L493.24 343.62 L493.39 344.41 L493.55 345.09 L493.70 345.70 L493.86 346.25 L494.01 346.75 L494.16 347.21 L494.30 347.62 L494.45 348.01 L494.60 348.36 L494.75 348.67 L494.90 348.96 L495.06 349.21 L495.22 349.43 L495.39 349.62 L495.56 349.79 L495.74 349.92 L495.93 350.02 L496.14 350.09 L496.35 350.13 L496.57 350.15 L496.81 350.13 L497.07 350.09 L497.33 350.02 L497.62 349.92 L497.92 349.80 L498.24 349.65 L498.59 349.47 L498.95 349.26 L499.34 349.02 L499.75 348.76 L500.19 348.47 L500.66 348.14 L501.17 347.78 L501.72 347.37 L502.32 346.90 L503.00 346.34 L503.80 345.61 L505.19 344.04" fill="#fff" stroke="#333" stroke-width="0.8"/>
<ellipse cx="497.90" cy="345.55" rx="2.3" ry="2.6" fill="#fff" stroke="#222" stroke-width="1.1"/>
<circle cx="498.20" cy="345.55" r="1.0" fill="#444"/>
<path d="M509.25 351.13 L507.89 352.75 L507.23 353.73 L506.71 354.56 L506.27 355.31 L505.88 355.99 L505.52 356.63 L505.21 357.22 L504.91 357.78 L504.65 358.30 L504.41 358.79 L504.20 359.26 L504.01 359.70 L503.84 360.12 L503.69 360.52 L503.56 360.89 L503.46 361.26 L503.38 361.60 L503.33 361.93 L503.29 362.25 L503.28 362.55 L503.29 362.85 L503.32 363.14 L503.37 363.42 L503.45 363.69 L503.55 363.96 L503.67 364.23 L503.81 364.50 L503.97 364.77 L504.16 365.04 L504.37 365.32 L504.61 365.60 L504.86 365.89 L505.15 366.19 L505.46 366.50 L505.81 366.83 L506.20 367.16 L506.63 367.52 L507.15 367.89 L507.80 368.28 L509.14 368.70" fill="#fff" stroke="#333" stroke-width="0.8"/>
<ellipse cx="506.75" cy="361.01" rx="2.3" ry="2.6" fill="#fff" stroke="#222" stroke-width="1.1"/>
<circle cx="507.05" cy="361.01" r="1.0" fill="#444"/>
<path d="M504.97 379.46 L503.59 379.12 L502.79 379.11 L502.12 379.15 L501.52 379.22 L500.97 379.29 L500.47 379.38 L500.00 379.47 L499.56 379.57 L499.15 379.67 L498.76 379.78 L498.40 379.90 L498.06 380.03 L497.73 380.16 L497.43 380.31 L497.14 380.46 L496.88 380.63 L496.62 380.82 L496.38 381.01 L496.16 381.23 L495.94 381.46 L495.74 381.72 L495.54 381.99 L495.36 382.28 L495.18 382.60 L495.01 382.94 L494.85 383.31 L494.69 383.70 L494.53 384.13 L494.37 384.58 L494.22 385.06 L494.07 385.58 L493.91 386.13 L493.76 386.72 L493.60 387.36 L493.44 388.05 L493.28 388.80 L493.11 389.62 L492.95 390.55 L492.80 391.67 L492.75 393.66" fill="#fff" stroke="#333" stroke-width="0.8"/>
<ellipse cx="497.66" cy="384.45" rx="2.3" ry="2.6" fill="#fff" stroke="#222" stroke-width="1.1"/>
<circle cx="497.96" cy="384.45" r="1.0" fill="#444"/>
<path d="M484.52 397.33 L484.50 395.36 L484.36 394.38 L484.21 393.59 L484.05 392.91 L483.90 392.30 L483.74 391.75 L483.59 391.25 L483.44 390.79 L483.30 390.38 L483.15 389.99 L483.00 389.64 L482.85 389.33 L482.70 389.04 L482.54 388.79 L482.38 388.57 L482.21 388.38 L482.04 388.21 L481.86 388.08 L481.67 387.98 L481.46 387.91 L481.25 387.87 L481.03 387.85 L480.79 387.87 L480.53 387.91 L480.27 387.98 L479.98 388.08 L479.68 388.20 L479.36 388.35 L479.01 388.53 L478.65 388.74 L478.26 388.98 L477.85 389.24 L477.41 389.53 L476.94 389.86 L476.43 390.22 L475.88 390.63 L475.28 391.10 L474.60 391.66 L473.80 392.39 L472.41 393.96" fill="#fff" stroke="#333" stroke-width="0.8"/>
<ellipse cx="479.70" cy="392.45" rx="2.3" ry="2.6" fill="#fff" stroke="#222" stroke-width="1.1"/>
<circle cx="480.00" cy="392.45" r="1.0" fill="#444"/>
<path d="M468.35 386.87 L469.71 385.25 L470.37 384.27 L470.89 383.44 L471.33 382.69 L471.72 382.01 L472.08 381.37 L472.39 380.78 L472.69 380.22 L472.95 379.70 L473.19 379.21 L473.40 378.74 L473.59 378.30 L473.76 377.88 L473.91 377.48 L474.04 377.11 L474.14 376.74 L474.22 376.40 L474.27 376.07 L474.31 375.75 L474.32 375.45 L474.31 375.15 L474.28 374.86 L474.23 374.58 L474.15 374.31 L474.05 374.04 L473.93 373.77 L473.79 373.50 L473.63 373.23 L473.44 372.96 L473.23 372.68 L472.99 372.40 L472.74 372.11 L472.45 371.81 L472.14 371.50 L471.79 371.17 L471.40 370.84 L470.97 370.48 L470.45 370.11 L469.80 369.72 L468.46 369.30" fill="#fff" stroke="#333" stroke-width="0.8"/>
<ellipse cx="470.85" cy="376.99" rx="2.3" ry="2.6" fill="#fff" stroke="#222" stroke-width="1.1"/>
<circle cx="471.15" cy="376.99" r="1.0" fill="#444"/>
<ellipse cx="474.57" cy="350.64" rx="2.6" ry="1.0" transform="rotate(-52.4 474.57 350.64)" fill="none" stroke="#333" stroke-width="0.85"/>
<circle cx="480.21" cy="344.33" r="0.85" fill="#444"/>
<ellipse cx="486.43" cy="339.70" rx="2.6" ry="1.0" transform="rotate(-28.6 486.43 339.70)" fill="none" stroke="#333" stroke-width="0.85"/>
<circle cx="492.81" cy="337.06" r="0.85" fill="#444"/>
<ellipse cx="498.92" cy="336.60" rx="2.6" ry="1.0" transform="rotate(8.5 498.92 336.60)" fill="none" stroke="#333" stroke-width="0.85"/>
<circle cx="504.34" cy="338.35" r="0.85" fill="#444"/>
<ellipse cx="508.71" cy="342.19" rx="2.6" ry="1.0" transform="rotate(54.2 508.71 342.19)" fill="none" stroke="#333" stroke-width="0.85"/>
<circle cx="511.71" cy="347.86" r="0.85" fill="#444"/>
<ellipse cx="513.15" cy="354.96" rx="2.6" ry="1.0" transform="rotate(86.6 513.15 354.96)" fill="none" stroke="#333" stroke-width="0.85"/>
<circle cx="512.94" cy="363.03" r="0.85" fill="#444"/>
<ellipse cx="511.07" cy="371.50" rx="2.6" ry="1.0" transform="rotate(108.3 511.07 371.50)" fill="none" stroke="#333" stroke-width="0.85"/>
<circle cx="507.69" cy="379.80" r="0.85" fill="#444"/>
<ellipse cx="503.03" cy="387.36" rx="2.6" ry="1.0" transform="rotate(127.6 503.03 387.36)" fill="none" stroke="#333" stroke-width="0.85"/>
<circle cx="497.39" cy="393.67" r="0.85" fill="#444"/>
<ellipse cx="491.17" cy="398.30" rx="2.6" ry="1.0" transform="rotate(151.4 491.17 398.30)" fill="none" stroke="#333" stroke-width="0.85"/>
<circle cx="484.79" cy="400.94" r="0.85" fill="#444"/>
<ellipse cx="478.68" cy="401.40" rx="2.6" ry="1.0" transform="rotate(-171.5 478.68 401.40)" fill="none" stroke="#333" stroke-width="0.85"/>
<circle cx="473.26" cy="399.65" r="0.85" fill="#444"/>
<ellipse cx="468.89" cy="395.81" rx="2.6" ry="1.0" transform="rotate(-125.8 468.89 395.81)" fill="none" stroke="#333" stroke-width="0.85"/>
<circle cx="465.89" cy="390.14" r="0.85" fill="#444"/>
<ellipse cx="464.45" cy="383.04" rx="2.6" ry="1.0" transform="rotate(-93.4 464.45 383.04)" fill="none" stroke="#333" stroke-width="0.85"/>
<circle cx="464.66" cy="374.97" r="0.85" fill="#444"/>
<ellipse cx="466.53" cy="366.50" rx="2.6" ry="1.0" transform="rotate(-71.7 466.53 366.50)" fill="none" stroke="#333" stroke-width="0.85"/>
<circle cx="469.91" cy="358.20" r="0.85" fill="#444"/>
</g>
<g id="small">
<ellipse cx="374.00" cy="319.50" rx="4.50" ry="7.30" transform="rotate(30.0 374.00 319.50)" fill="none" stroke="#000" stroke-width="2.3"/>
<path d="M383 320.5 C385 317.5 389.5 317.2 391 319.8 C392.2 322.5 391 327 388.5 329.5 C386.5 331 383.5 331 382.3 328.5 C381.5 326 381.8 322.5 383 320.5Z" fill="#fff" stroke="#222" stroke-width="1.2" />
<path d="M385.5 326 L388 322.8 L389.2 326.5Z" fill="#fff" stroke="#222" stroke-width="0.9" />
<ellipse cx="398.20" cy="332.30" rx="5.20" ry="6.20" transform="rotate(25.0 398.20 332.30)" fill="#fff" stroke="#333" stroke-width="0.9"/>
<ellipse cx="399.50" cy="331.80" rx="5.00" ry="6.00" transform="rotate(25.0 399.50 331.80)" fill="#fff" stroke="#222" stroke-width="1.0"/>
<ellipse cx="399.80" cy="331.70" rx="3.00" ry="3.90" transform="rotate(25.0 399.80 331.70)" fill="#fff" stroke="#111" stroke-width="1.7"/>
<ellipse cx="399.90" cy="331.60" rx="1.20" ry="1.60" transform="rotate(25.0 399.90 331.60)" fill="#fff" stroke="#111" stroke-width="1.0"/>
<ellipse cx="434.70" cy="352.10" rx="5.20" ry="6.20" transform="rotate(25.0 434.70 352.10)" fill="#fff" stroke="#333" stroke-width="0.9"/>
<ellipse cx="436.00" cy="351.60" rx="5.00" ry="6.00" transform="rotate(25.0 436.00 351.60)" fill="#fff" stroke="#222" stroke-width="1.0"/>
<ellipse cx="436.30" cy="351.50" rx="3.00" ry="3.90" transform="rotate(25.0 436.30 351.50)" fill="#fff" stroke="#111" stroke-width="1.7"/>
<ellipse cx="436.40" cy="351.40" rx="1.20" ry="1.60" transform="rotate(25.0 436.40 351.40)" fill="#fff" stroke="#111" stroke-width="1.0"/>
<path d="M408.8 335 L428.3 344 L425.8 349.8 L406.3 340.8 Z" fill="#fff" stroke="#444" stroke-width="0.9" />
<ellipse cx="427.00" cy="346.90" rx="2.30" ry="3.10" transform="rotate(25.0 427.00 346.90)" fill="#fff" stroke="#444" stroke-width="0.9"/>
<ellipse cx="407.50" cy="337.90" rx="2.30" ry="3.10" transform="rotate(25.0 407.50 337.90)" fill="#fff" stroke="#444" stroke-width="0.9"/>
<ellipse cx="446.40" cy="356.50" rx="4.60" ry="5.70" transform="rotate(25.0 446.40 356.50)" fill="#fff" stroke="#111" stroke-width="1.3"/>
<ellipse cx="447.00" cy="356.20" rx="3.50" ry="4.50" transform="rotate(25.0 447.00 356.20)" fill="#fff" stroke="#333" stroke-width="1.0"/>
<path d="M444.7 353.8 L447 359.5 L449.5 353.3" fill="none" stroke="#333" stroke-width="0.8" />
<path d="M604.5 418.3 L610.5 417.3 L611.5 424.9 L605 425.5 C602 424.6 601.8 419.5 604.5 418.3Z" fill="#fff" stroke="#222" stroke-width="1.0" />
<ellipse cx="610.50" cy="421.20" rx="2.60" ry="3.70" transform="rotate(0.0 610.50 421.20)" fill="#fff" stroke="#222" stroke-width="1.1"/>
<path d="M609.5 418.5 L611 423.5" fill="none" stroke="#333" stroke-width="0.7" />
<ellipse cx="619.20" cy="426.60" rx="3.40" ry="3.80" transform="rotate(0.0 619.20 426.60)" fill="#fff" stroke="#111" stroke-width="1.4"/>
<ellipse cx="619.80" cy="426.30" rx="2.00" ry="2.50" transform="rotate(0.0 619.80 426.30)" fill="#fff" stroke="#333" stroke-width="0.9"/>
<path d="M619 424.6 L620.2 428.2" fill="none" stroke="#444" stroke-width="0.7" />
<path d="M546.6 374 L555.4 389.2 L545.9 413.3 L527 421.3 L518.1 406 L528.4 381.9" fill="none" stroke="#000" stroke-width="2.3" stroke-linejoin="round"/>
<path d="M543.9 372.1 L546.6 374.0" fill="none" stroke="#222" stroke-width="2.0" />
<ellipse cx="542.40" cy="371.00" rx="2.50" ry="1.70" transform="rotate(35.0 542.40 371.00)" fill="#fff" stroke="#333" stroke-width="0.9"/>
<ellipse cx="546.60" cy="374.00" rx="1.50" ry="1.50" transform="rotate(0.0 546.60 374.00)" fill="#111" stroke="none" stroke-width="0"/>
<path d="M552.7 387.3 L555.4 389.2" fill="none" stroke="#222" stroke-width="2.0" />
<ellipse cx="551.20" cy="386.20" rx="2.50" ry="1.70" transform="rotate(35.0 551.20 386.20)" fill="#fff" stroke="#333" stroke-width="0.9"/>
<ellipse cx="555.40" cy="389.20" rx="1.50" ry="1.50" transform="rotate(0.0 555.40 389.20)" fill="#111" stroke="none" stroke-width="0"/>
<path d="M543.2 411.4 L545.9 413.3" fill="none" stroke="#222" stroke-width="2.0" />
<ellipse cx="541.70" cy="410.30" rx="2.50" ry="1.70" transform="rotate(35.0 541.70 410.30)" fill="#fff" stroke="#333" stroke-width="0.9"/>
<ellipse cx="545.90" cy="413.30" rx="1.50" ry="1.50" transform="rotate(0.0 545.90 413.30)" fill="#111" stroke="none" stroke-width="0"/>
<path d="M524.3 419.4 L527.0 421.3" fill="none" stroke="#222" stroke-width="2.0" />
<ellipse cx="522.80" cy="418.30" rx="2.50" ry="1.70" transform="rotate(35.0 522.80 418.30)" fill="#fff" stroke="#333" stroke-width="0.9"/>
<ellipse cx="527.00" cy="421.30" rx="1.50" ry="1.50" transform="rotate(0.0 527.00 421.30)" fill="#111" stroke="none" stroke-width="0"/>
<path d="M515.4 404.1 L518.1 406.0" fill="none" stroke="#222" stroke-width="2.0" />
<ellipse cx="513.90" cy="403.00" rx="2.50" ry="1.70" transform="rotate(35.0 513.90 403.00)" fill="#fff" stroke="#333" stroke-width="0.9"/>
<ellipse cx="518.10" cy="406.00" rx="1.50" ry="1.50" transform="rotate(0.0 518.10 406.00)" fill="#111" stroke="none" stroke-width="0"/>
<path d="M525.7 380.0 L528.4 381.9" fill="none" stroke="#222" stroke-width="2.0" />
<ellipse cx="524.20" cy="378.90" rx="2.50" ry="1.70" transform="rotate(35.0 524.20 378.90)" fill="#fff" stroke="#333" stroke-width="0.9"/>
<ellipse cx="528.40" cy="381.90" rx="1.50" ry="1.50" transform="rotate(0.0 528.40 381.90)" fill="#111" stroke="none" stroke-width="0"/>
<path d="M181 27.2 L231.6 53.1 L230.5 55.9 L178.6 30.5 Z" fill="#fff" stroke="#111" stroke-width="0.9" />
<path d="M221 48.2 L231.6 53.6 L230.5 55.9 L220 50.6Z" fill="#999" stroke="#222" stroke-width="0.5" />
<path d="M222 49.5 L231 54.3" fill="none" stroke="#fff" stroke-width="0.5" />
<path d="M175.2 26.5 C176 25 178.5 24.6 180.5 25.2 C181.6 25.8 181.8 27.5 181 28.5 L178.8 30.8 C177.3 31.2 175.5 30.5 175 29 C174.6 28.2 174.8 27.2 175.2 26.5Z" fill="#fff" stroke="#111" stroke-width="1.1" />
<path d="M175.5 27.2 C176 28.5 177 30 178.2 30.5" fill="none" stroke="#222" stroke-width="1.2" />
</g>
<g id="box">
<path d="M241 53.5 C243.5 50.5 248 50.2 250.5 52.5 C253 55.5 252.8 62 250 65 C247.5 67 243 67 240.5 65.5 C238.5 63 238.5 57 241 53.5Z" fill="#fff" stroke="#111" stroke-width="1.3" />
<path d="M240.8 53.8 C239 57 238.6 62.5 240.3 65.6 C241 66.4 242 66.6 242.6 66.5 C241 62.5 241.2 57.5 243.5 52.2 C242.5 52.4 241.5 53 240.8 53.8Z" fill="#222" stroke="#111" stroke-width="0.8" />
<ellipse cx="247.30" cy="59.20" rx="4.40" ry="6.30" transform="rotate(15.0 247.30 59.20)" fill="#fff" stroke="#111" stroke-width="1.1"/>
<ellipse cx="248.00" cy="59.00" rx="2.60" ry="3.90" transform="rotate(15.0 248.00 59.00)" fill="#fff" stroke="#222" stroke-width="1.1"/>
<ellipse cx="248.30" cy="59.00" rx="1.00" ry="1.50" transform="rotate(15.0 248.30 59.00)" fill="#333" stroke="#333" stroke-width="0.8"/>
<ellipse cx="240.50" cy="65.30" rx="1.40" ry="1.10" transform="rotate(0.0 240.50 65.30)" fill="#fff" stroke="#333" stroke-width="0.8"/>
<path d="M252.8 54.8 L271.3 44.0" fill="none" stroke="#111" stroke-width="3.3" stroke-linecap="round"/>
<ellipse cx="259.30" cy="50.90" rx="2.20" ry="1.25" transform="rotate(-30.0 259.30 50.90)" fill="#fff" stroke="#222" stroke-width="0.7"/>
<ellipse cx="266.00" cy="46.90" rx="2.60" ry="1.30" transform="rotate(-30.0 266.00 46.90)" fill="#fff" stroke="#222" stroke-width="0.7"/>
<ellipse cx="258.40" cy="66.70" rx="2.60" ry="3.60" transform="rotate(25.0 258.40 66.70)" fill="none" stroke="#111" stroke-width="1.3"/>
<ellipse cx="264.70" cy="70.80" rx="2.60" ry="3.60" transform="rotate(25.0 264.70 70.80)" fill="none" stroke="#111" stroke-width="1.3"/>
<path d="M271.5 71 C273 69.5 276.5 69.8 278.2 71.5 L279 77.5 C278 80 275.5 81 273.5 80 C270.5 79.5 269 76 269.5 73.5 C270 72.3 270.7 71.5 271.5 71Z" fill="#fff" stroke="#111" stroke-width="1.0" />
<path d="M271.2 71.5 C270 74 270.5 77.5 272.8 79.5" fill="none" stroke="#333" stroke-width="0.9" />
<path d="M272.8 70.6 C271.6 73.5 272 77.5 274.5 80.2" fill="none" stroke="#333" stroke-width="0.9" />
<ellipse cx="276.00" cy="75.00" rx="3.00" ry="4.20" transform="rotate(20.0 276.00 75.00)" fill="#fff" stroke="#111" stroke-width="1.1"/>
<ellipse cx="276.50" cy="75.00" rx="1.50" ry="2.30" transform="rotate(20.0 276.50 75.00)" fill="#fff" stroke="#222" stroke-width="1.2"/>
</g>
<!-- labels -->
<g id="labels">
<text x="156" y="72.4">44301</text>
<text x="301.5" y="63.0">44800</text>
<text x="274" y="178.3">44710</text>
<text x="383.7" y="255.4">44601</text>
<text x="387.7" y="294.7">91258</text>
<text x="397.5" y="313.7">96140</text>
<text x="361.7" y="356.8">44680</text>
<text x="392.5" y="376.0">44620</text>
<text x="385.8" y="392.7">91252</text>
<text x="475" y="307.3">45121</text>
<text x="524.7" y="350.2">90105</text>
<text x="584.7" y="398.1">44311</text>
<text x="597.8" y="456.1">90306</text>
</g>
<!-- leaders -->
<g id="leaders" stroke="#000" stroke-width="2.8" fill="none">
<path d="M178.5 31.5V53.5"/>
<path d="M285 55.8H294"/>
<path d="M249.5 170H265"/>
<path d="M352.5 247.3H373.8"/>
<path d="M383 288.1H375.2V311"/>
<path d="M420.4 317.5V322.5M399.3 327V322.5H436.3V347"/>
<path d="M383.1 330.3V340.7"/>
<path d="M414 343.7V357.3"/>
<path d="M434.8 385.4H445V360.4"/>
<path d="M498 315V330.8"/>
<path d="M546.3 357.5V375"/>
<path d="M606.2 406.8V417.1"/>
<path d="M618.4 430V437.7"/>
</g>
<rect x="235.5" y="41.3" width="48.25" height="43.9" fill="none" stroke="#000" stroke-width="2.7"/>
</svg>
</body></html>
